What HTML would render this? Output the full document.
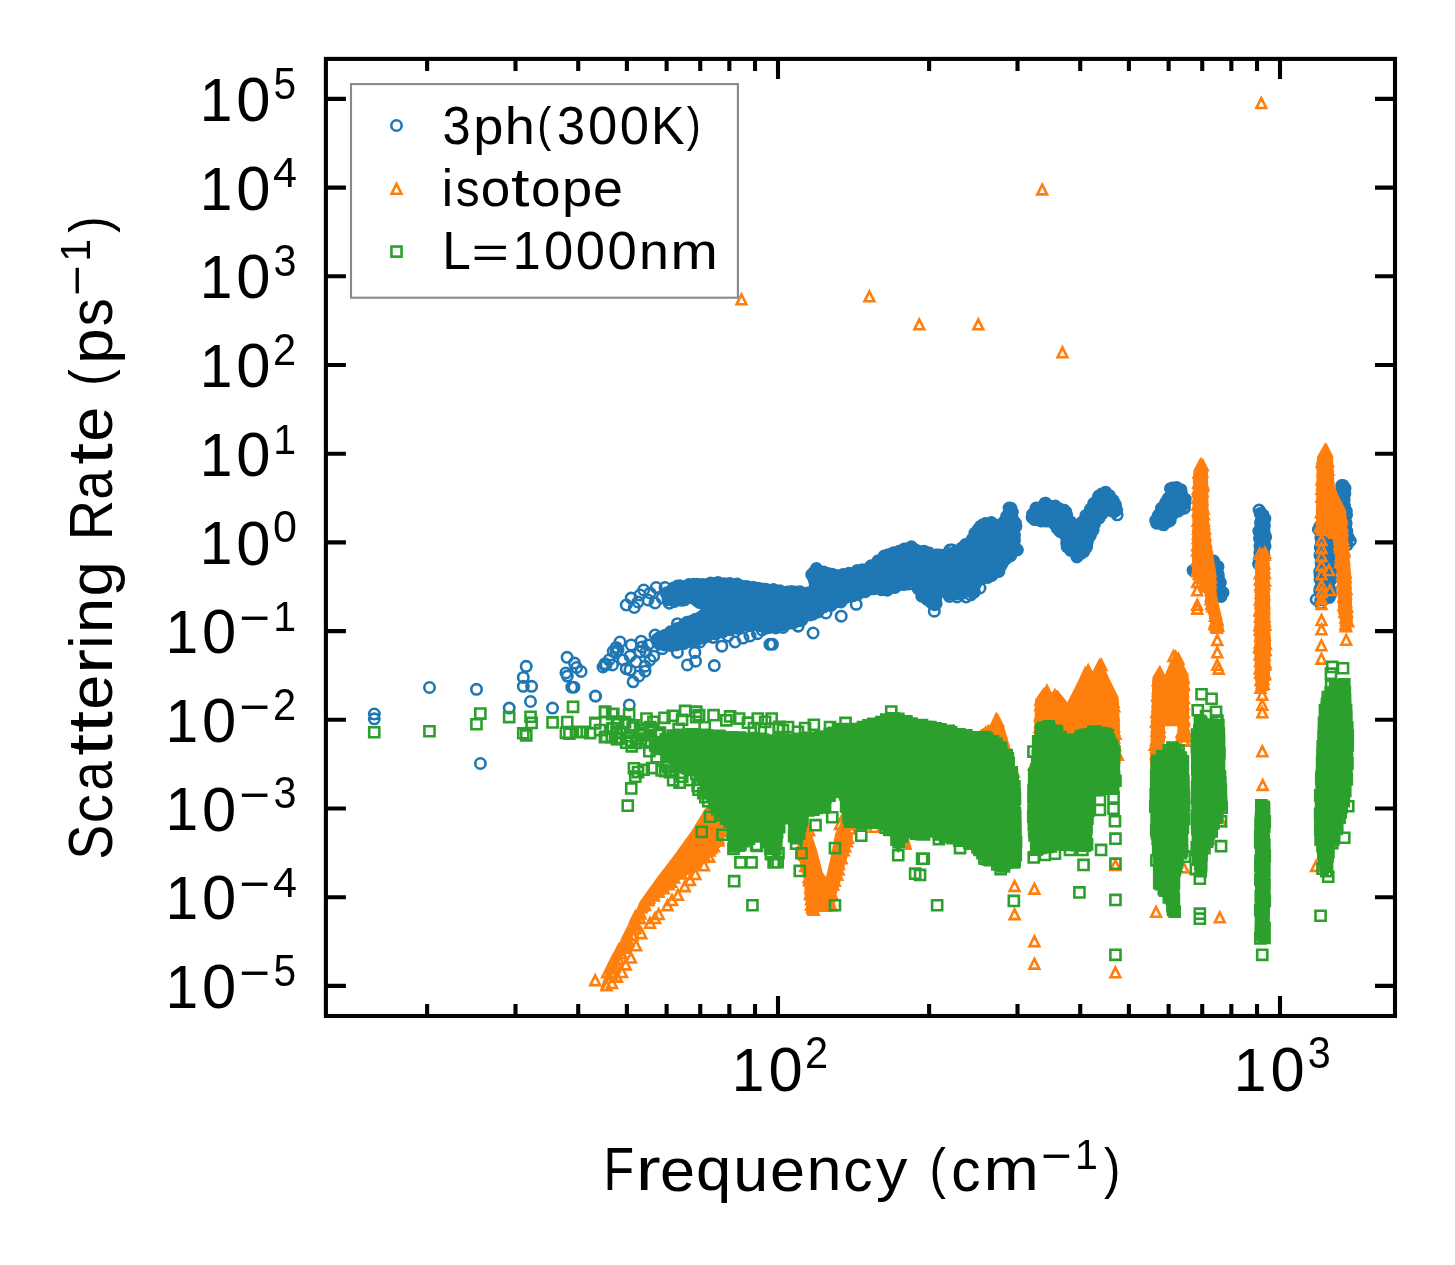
<!DOCTYPE html>
<html><head><meta charset="utf-8"><style>html,body{margin:0;padding:0;background:#fff;width:1455px;height:1265px;overflow:hidden}text{font-family:"Liberation Sans",sans-serif}svg{will-change:transform}</style></head><body><svg width="1455" height="1265" viewBox="0 0 1455 1265" style="position:absolute;left:0;top:0"><defs><clipPath id="axclip"><rect x="325.9" y="58.9" width="1069.1" height="957.1"/></clipPath></defs><rect width="100%" height="100%" fill="#fff"/><g clip-path="url(#axclip)"><path d="M671.0 582.0 L690.0 579.4 L721.1 577.5 L745.0 581.0 L770.0 585.0 L788.7 586.2 L810.0 588.1 L806.2 575.0 L813.7 563.7 L820.0 566.2 L840.0 570.6 L863.7 564.3 L882.4 552.5 L901.1 545.0 L912.4 541.2 L919.9 545.0 L932.4 550.0 L947.9 550.5 L957.2 545.3 L966.4 538.7 L973.0 525.5 L979.6 520.2 L990.2 517.5 L998.1 518.9 L1003.4 512.2 L1006.0 505.6 L1011.3 503.0 L1016.6 507.0 L1017.9 514.9 L1020.5 522.8 L1019.9 536.0 L1020.5 553.2 L1015.3 558.5 L1010.0 563.7 L1004.7 567.7 L1002.1 575.6 L992.8 580.9 L986.2 583.5 L979.6 586.2 L974.3 596.7 L966.4 596.7 L955.8 599.4 L947.9 600.7 L942.4 597.4 L939.9 604.9 L934.9 610.0 L928.6 607.4 L919.9 598.7 L912.4 587.5 L901.1 590.0 L892.4 593.7 L887.4 595.0 L876.2 593.7 L863.7 597.4 L850.0 602.4 L842.4 606.2 L832.5 610.0 L826.2 611.2 L817.5 617.4 L807.5 620.0 L801.2 626.2 L788.7 628.7 L776.2 632.4 L770.0 633.7 L752.4 630.0 L733.6 633.7 L714.9 638.7 L702.4 643.7 L677.4 650.0 L660.0 650.0 L652.5 646.0 L652.5 636.2 L677.4 622.5 L696.2 612.5 L702.4 608.7 L690.0 603.7 L671.2 606.2 L664.0 604.0 L662.0 592.0 Z" fill="#1f77b4"/><path d="M1027.1 512.2 L1032.4 504.3 L1045.6 498.4 L1058.8 501.7 L1068.1 507.0 L1073.4 517.5 L1077.3 521.5 L1086.6 505.6 L1094.5 492.4 L1105.0 486.5 L1111.6 491.1 L1120.2 500.4 L1121.5 512.2 L1115.6 518.9 L1107.7 516.2 L1099.8 522.8 L1094.5 540.0 L1087.9 554.5 L1078.6 562.4 L1072.0 557.1 L1064.1 551.9 L1060.1 538.7 L1054.9 533.4 L1048.3 526.8 L1040.3 527.4 L1031.1 524.1 L1027.1 518.9 Z" fill="#1f77b4"/><path d="M1150.7 519.3 L1155.3 508.6 L1162.9 498.0 L1169.0 484.2 L1176.6 482.0 L1185.8 487.3 L1189.6 498.0 L1188.8 508.6 L1182.7 513.2 L1176.6 519.3 L1172.0 527.0 L1164.4 529.2 L1156.8 528.5 L1150.7 524.7 Z" fill="#1f77b4"/><path d="M1190.3 568.1 L1201.0 555.9 L1214.8 555.9 L1222.4 565.1 L1224.7 577.3 L1225.4 586.5 L1227.7 592.6 L1225.4 598.7 L1217.8 598.7 L1211.7 591.0 L1204.1 577.3 L1190.3 574.2 Z" fill="#1f77b4"/><path d="M1255.9 511.7 L1262.0 505.6 L1268.9 511.7 L1270.4 531.5 L1268.9 559.0 L1262.0 568.1 L1255.2 562.0 L1254.4 531.5 Z" fill="#1f77b4"/><path d="M1336.8 482.7 L1342.9 479.7 L1348.2 484.2 L1350.5 508.6 L1352.8 537.6 L1352.1 545.3 L1344.4 546.8 L1335.3 574.2 L1334.5 598.7 L1327.6 604.0 L1315.4 604.8 L1315.4 525.4 L1330.0 520.0 Z" fill="#1f77b4"/><path d="M682.6 586.1a5.2 5.2 0 1 0 -10.4 0a5.2 5.2 0 1 0 10.4 0M684.9 585.7a5.2 5.2 0 1 0 -10.4 0a5.2 5.2 0 1 0 10.4 0M694.2 584.5a5.2 5.2 0 1 0 -10.4 0a5.2 5.2 0 1 0 10.4 0M699.2 584.2a5.2 5.2 0 1 0 -10.4 0a5.2 5.2 0 1 0 10.4 0M702.6 584.2a5.2 5.2 0 1 0 -10.4 0a5.2 5.2 0 1 0 10.4 0M707.8 584.5a5.2 5.2 0 1 0 -10.4 0a5.2 5.2 0 1 0 10.4 0M715.9 582.9a5.2 5.2 0 1 0 -10.4 0a5.2 5.2 0 1 0 10.4 0M720.7 583.2a5.2 5.2 0 1 0 -10.4 0a5.2 5.2 0 1 0 10.4 0M723.2 582.6a5.2 5.2 0 1 0 -10.4 0a5.2 5.2 0 1 0 10.4 0M729.9 583.7a5.2 5.2 0 1 0 -10.4 0a5.2 5.2 0 1 0 10.4 0M735.0 583.4a5.2 5.2 0 1 0 -10.4 0a5.2 5.2 0 1 0 10.4 0M742.4 584.1a5.2 5.2 0 1 0 -10.4 0a5.2 5.2 0 1 0 10.4 0M747.6 586.2a5.2 5.2 0 1 0 -10.4 0a5.2 5.2 0 1 0 10.4 0M752.0 586.5a5.2 5.2 0 1 0 -10.4 0a5.2 5.2 0 1 0 10.4 0M758.3 587.2a5.2 5.2 0 1 0 -10.4 0a5.2 5.2 0 1 0 10.4 0M763.3 588.3a5.2 5.2 0 1 0 -10.4 0a5.2 5.2 0 1 0 10.4 0M766.4 589.0a5.2 5.2 0 1 0 -10.4 0a5.2 5.2 0 1 0 10.4 0M771.0 589.2a5.2 5.2 0 1 0 -10.4 0a5.2 5.2 0 1 0 10.4 0M778.7 589.6a5.2 5.2 0 1 0 -10.4 0a5.2 5.2 0 1 0 10.4 0M784.9 590.7a5.2 5.2 0 1 0 -10.4 0a5.2 5.2 0 1 0 10.4 0M792.5 591.9a5.2 5.2 0 1 0 -10.4 0a5.2 5.2 0 1 0 10.4 0M796.8 591.4a5.2 5.2 0 1 0 -10.4 0a5.2 5.2 0 1 0 10.4 0M801.8 592.1a5.2 5.2 0 1 0 -10.4 0a5.2 5.2 0 1 0 10.4 0M805.2 591.8a5.2 5.2 0 1 0 -10.4 0a5.2 5.2 0 1 0 10.4 0M812.9 592.9a5.2 5.2 0 1 0 -10.4 0a5.2 5.2 0 1 0 10.4 0M820.2 586.7a5.2 5.2 0 1 0 -10.4 0a5.2 5.2 0 1 0 10.4 0M816.9 574.7a5.2 5.2 0 1 0 -10.4 0a5.2 5.2 0 1 0 10.4 0M819.1 572.4a5.2 5.2 0 1 0 -10.4 0a5.2 5.2 0 1 0 10.4 0M821.6 568.6a5.2 5.2 0 1 0 -10.4 0a5.2 5.2 0 1 0 10.4 0M823.0 570.6a5.2 5.2 0 1 0 -10.4 0a5.2 5.2 0 1 0 10.4 0M829.0 572.0a5.2 5.2 0 1 0 -10.4 0a5.2 5.2 0 1 0 10.4 0M833.2 573.6a5.2 5.2 0 1 0 -10.4 0a5.2 5.2 0 1 0 10.4 0M837.4 574.3a5.2 5.2 0 1 0 -10.4 0a5.2 5.2 0 1 0 10.4 0M841.8 575.5a5.2 5.2 0 1 0 -10.4 0a5.2 5.2 0 1 0 10.4 0M848.3 574.4a5.2 5.2 0 1 0 -10.4 0a5.2 5.2 0 1 0 10.4 0M854.2 573.2a5.2 5.2 0 1 0 -10.4 0a5.2 5.2 0 1 0 10.4 0M862.5 570.4a5.2 5.2 0 1 0 -10.4 0a5.2 5.2 0 1 0 10.4 0M867.7 569.7a5.2 5.2 0 1 0 -10.4 0a5.2 5.2 0 1 0 10.4 0M875.9 566.1a5.2 5.2 0 1 0 -10.4 0a5.2 5.2 0 1 0 10.4 0M876.6 565.7a5.2 5.2 0 1 0 -10.4 0a5.2 5.2 0 1 0 10.4 0M883.4 560.7a5.2 5.2 0 1 0 -10.4 0a5.2 5.2 0 1 0 10.4 0M889.4 556.0a5.2 5.2 0 1 0 -10.4 0a5.2 5.2 0 1 0 10.4 0M893.5 554.7a5.2 5.2 0 1 0 -10.4 0a5.2 5.2 0 1 0 10.4 0M895.6 555.6a5.2 5.2 0 1 0 -10.4 0a5.2 5.2 0 1 0 10.4 0M898.8 552.7a5.2 5.2 0 1 0 -10.4 0a5.2 5.2 0 1 0 10.4 0M904.3 551.3a5.2 5.2 0 1 0 -10.4 0a5.2 5.2 0 1 0 10.4 0M909.4 549.1a5.2 5.2 0 1 0 -10.4 0a5.2 5.2 0 1 0 10.4 0M913.1 548.5a5.2 5.2 0 1 0 -10.4 0a5.2 5.2 0 1 0 10.4 0M916.6 546.8a5.2 5.2 0 1 0 -10.4 0a5.2 5.2 0 1 0 10.4 0M929.2 551.2a5.2 5.2 0 1 0 -10.4 0a5.2 5.2 0 1 0 10.4 0M934.4 553.1a5.2 5.2 0 1 0 -10.4 0a5.2 5.2 0 1 0 10.4 0M941.5 554.9a5.2 5.2 0 1 0 -10.4 0a5.2 5.2 0 1 0 10.4 0M944.1 555.1a5.2 5.2 0 1 0 -10.4 0a5.2 5.2 0 1 0 10.4 0M948.6 555.2a5.2 5.2 0 1 0 -10.4 0a5.2 5.2 0 1 0 10.4 0M958.2 553.1a5.2 5.2 0 1 0 -10.4 0a5.2 5.2 0 1 0 10.4 0M962.4 550.9a5.2 5.2 0 1 0 -10.4 0a5.2 5.2 0 1 0 10.4 0M967.1 547.9a5.2 5.2 0 1 0 -10.4 0a5.2 5.2 0 1 0 10.4 0M970.7 544.6a5.2 5.2 0 1 0 -10.4 0a5.2 5.2 0 1 0 10.4 0M977.6 539.1a5.2 5.2 0 1 0 -10.4 0a5.2 5.2 0 1 0 10.4 0M980.1 533.2a5.2 5.2 0 1 0 -10.4 0a5.2 5.2 0 1 0 10.4 0M985.7 526.4a5.2 5.2 0 1 0 -10.4 0a5.2 5.2 0 1 0 10.4 0M988.0 524.8a5.2 5.2 0 1 0 -10.4 0a5.2 5.2 0 1 0 10.4 0M990.8 523.4a5.2 5.2 0 1 0 -10.4 0a5.2 5.2 0 1 0 10.4 0M996.6 522.6a5.2 5.2 0 1 0 -10.4 0a5.2 5.2 0 1 0 10.4 0M1012.0 516.0a5.2 5.2 0 1 0 -10.4 0a5.2 5.2 0 1 0 10.4 0M1014.6 511.2a5.2 5.2 0 1 0 -10.4 0a5.2 5.2 0 1 0 10.4 0M1016.2 508.3a5.2 5.2 0 1 0 -10.4 0a5.2 5.2 0 1 0 10.4 0M1014.3 508.1a5.2 5.2 0 1 0 -10.4 0a5.2 5.2 0 1 0 10.4 0M1017.6 512.1a5.2 5.2 0 1 0 -10.4 0a5.2 5.2 0 1 0 10.4 0M1020.6 523.1a5.2 5.2 0 1 0 -10.4 0a5.2 5.2 0 1 0 10.4 0M1021.1 526.3a5.2 5.2 0 1 0 -10.4 0a5.2 5.2 0 1 0 10.4 0M1019.7 535.3a5.2 5.2 0 1 0 -10.4 0a5.2 5.2 0 1 0 10.4 0M1019.6 540.2a5.2 5.2 0 1 0 -10.4 0a5.2 5.2 0 1 0 10.4 0M1020.3 547.9a5.2 5.2 0 1 0 -10.4 0a5.2 5.2 0 1 0 10.4 0M1020.1 549.8a5.2 5.2 0 1 0 -10.4 0a5.2 5.2 0 1 0 10.4 0M1022.6 549.8a5.2 5.2 0 1 0 -10.4 0a5.2 5.2 0 1 0 10.4 0M1015.9 555.7a5.2 5.2 0 1 0 -10.4 0a5.2 5.2 0 1 0 10.4 0M1007.2 564.0a5.2 5.2 0 1 0 -10.4 0a5.2 5.2 0 1 0 10.4 0M1005.5 566.8a5.2 5.2 0 1 0 -10.4 0a5.2 5.2 0 1 0 10.4 0M1004.1 571.4a5.2 5.2 0 1 0 -10.4 0a5.2 5.2 0 1 0 10.4 0M997.1 575.4a5.2 5.2 0 1 0 -10.4 0a5.2 5.2 0 1 0 10.4 0M993.0 577.4a5.2 5.2 0 1 0 -10.4 0a5.2 5.2 0 1 0 10.4 0M983.4 580.5a5.2 5.2 0 1 0 -10.4 0a5.2 5.2 0 1 0 10.4 0M980.5 584.3a5.2 5.2 0 1 0 -10.4 0a5.2 5.2 0 1 0 10.4 0M975.9 594.8a5.2 5.2 0 1 0 -10.4 0a5.2 5.2 0 1 0 10.4 0M979.6 592.0a5.2 5.2 0 1 0 -10.4 0a5.2 5.2 0 1 0 10.4 0M967.2 593.4a5.2 5.2 0 1 0 -10.4 0a5.2 5.2 0 1 0 10.4 0M961.5 594.1a5.2 5.2 0 1 0 -10.4 0a5.2 5.2 0 1 0 10.4 0M958.7 594.0a5.2 5.2 0 1 0 -10.4 0a5.2 5.2 0 1 0 10.4 0M954.6 596.4a5.2 5.2 0 1 0 -10.4 0a5.2 5.2 0 1 0 10.4 0M940.8 601.4a5.2 5.2 0 1 0 -10.4 0a5.2 5.2 0 1 0 10.4 0M940.8 602.4a5.2 5.2 0 1 0 -10.4 0a5.2 5.2 0 1 0 10.4 0M940.0 604.7a5.2 5.2 0 1 0 -10.4 0a5.2 5.2 0 1 0 10.4 0M936.0 602.2a5.2 5.2 0 1 0 -10.4 0a5.2 5.2 0 1 0 10.4 0M932.3 599.3a5.2 5.2 0 1 0 -10.4 0a5.2 5.2 0 1 0 10.4 0M928.8 595.2a5.2 5.2 0 1 0 -10.4 0a5.2 5.2 0 1 0 10.4 0M923.3 588.6a5.2 5.2 0 1 0 -10.4 0a5.2 5.2 0 1 0 10.4 0M914.4 584.0a5.2 5.2 0 1 0 -10.4 0a5.2 5.2 0 1 0 10.4 0M908.9 584.6a5.2 5.2 0 1 0 -10.4 0a5.2 5.2 0 1 0 10.4 0M900.3 587.4a5.2 5.2 0 1 0 -10.4 0a5.2 5.2 0 1 0 10.4 0M892.5 590.2a5.2 5.2 0 1 0 -10.4 0a5.2 5.2 0 1 0 10.4 0M891.8 590.0a5.2 5.2 0 1 0 -10.4 0a5.2 5.2 0 1 0 10.4 0M886.5 589.7a5.2 5.2 0 1 0 -10.4 0a5.2 5.2 0 1 0 10.4 0M878.8 588.8a5.2 5.2 0 1 0 -10.4 0a5.2 5.2 0 1 0 10.4 0M870.4 591.7a5.2 5.2 0 1 0 -10.4 0a5.2 5.2 0 1 0 10.4 0M863.5 594.0a5.2 5.2 0 1 0 -10.4 0a5.2 5.2 0 1 0 10.4 0M858.6 595.7a5.2 5.2 0 1 0 -10.4 0a5.2 5.2 0 1 0 10.4 0M846.9 600.7a5.2 5.2 0 1 0 -10.4 0a5.2 5.2 0 1 0 10.4 0M846.1 602.0a5.2 5.2 0 1 0 -10.4 0a5.2 5.2 0 1 0 10.4 0M836.3 605.4a5.2 5.2 0 1 0 -10.4 0a5.2 5.2 0 1 0 10.4 0M835.9 604.8a5.2 5.2 0 1 0 -10.4 0a5.2 5.2 0 1 0 10.4 0M829.0 606.8a5.2 5.2 0 1 0 -10.4 0a5.2 5.2 0 1 0 10.4 0M823.0 610.5a5.2 5.2 0 1 0 -10.4 0a5.2 5.2 0 1 0 10.4 0M818.2 614.1a5.2 5.2 0 1 0 -10.4 0a5.2 5.2 0 1 0 10.4 0M811.0 615.0a5.2 5.2 0 1 0 -10.4 0a5.2 5.2 0 1 0 10.4 0M805.5 620.6a5.2 5.2 0 1 0 -10.4 0a5.2 5.2 0 1 0 10.4 0M799.4 622.4a5.2 5.2 0 1 0 -10.4 0a5.2 5.2 0 1 0 10.4 0M796.3 622.7a5.2 5.2 0 1 0 -10.4 0a5.2 5.2 0 1 0 10.4 0M788.2 624.8a5.2 5.2 0 1 0 -10.4 0a5.2 5.2 0 1 0 10.4 0M780.9 628.0a5.2 5.2 0 1 0 -10.4 0a5.2 5.2 0 1 0 10.4 0M779.6 627.2a5.2 5.2 0 1 0 -10.4 0a5.2 5.2 0 1 0 10.4 0M772.2 628.0a5.2 5.2 0 1 0 -10.4 0a5.2 5.2 0 1 0 10.4 0M766.6 626.0a5.2 5.2 0 1 0 -10.4 0a5.2 5.2 0 1 0 10.4 0M764.6 625.5a5.2 5.2 0 1 0 -10.4 0a5.2 5.2 0 1 0 10.4 0M754.5 624.6a5.2 5.2 0 1 0 -10.4 0a5.2 5.2 0 1 0 10.4 0M744.8 626.8a5.2 5.2 0 1 0 -10.4 0a5.2 5.2 0 1 0 10.4 0M743.4 628.5a5.2 5.2 0 1 0 -10.4 0a5.2 5.2 0 1 0 10.4 0M735.0 629.7a5.2 5.2 0 1 0 -10.4 0a5.2 5.2 0 1 0 10.4 0M728.0 632.0a5.2 5.2 0 1 0 -10.4 0a5.2 5.2 0 1 0 10.4 0M721.1 633.9a5.2 5.2 0 1 0 -10.4 0a5.2 5.2 0 1 0 10.4 0M712.1 636.4a5.2 5.2 0 1 0 -10.4 0a5.2 5.2 0 1 0 10.4 0M708.8 638.0a5.2 5.2 0 1 0 -10.4 0a5.2 5.2 0 1 0 10.4 0M702.2 640.0a5.2 5.2 0 1 0 -10.4 0a5.2 5.2 0 1 0 10.4 0M697.6 641.4a5.2 5.2 0 1 0 -10.4 0a5.2 5.2 0 1 0 10.4 0M695.9 641.4a5.2 5.2 0 1 0 -10.4 0a5.2 5.2 0 1 0 10.4 0M689.4 643.5a5.2 5.2 0 1 0 -10.4 0a5.2 5.2 0 1 0 10.4 0M681.3 644.9a5.2 5.2 0 1 0 -10.4 0a5.2 5.2 0 1 0 10.4 0M677.2 645.2a5.2 5.2 0 1 0 -10.4 0a5.2 5.2 0 1 0 10.4 0M675.7 645.5a5.2 5.2 0 1 0 -10.4 0a5.2 5.2 0 1 0 10.4 0M669.9 644.9a5.2 5.2 0 1 0 -10.4 0a5.2 5.2 0 1 0 10.4 0M664.4 644.0a5.2 5.2 0 1 0 -10.4 0a5.2 5.2 0 1 0 10.4 0M662.1 640.2a5.2 5.2 0 1 0 -10.4 0a5.2 5.2 0 1 0 10.4 0M662.3 639.3a5.2 5.2 0 1 0 -10.4 0a5.2 5.2 0 1 0 10.4 0M665.3 637.2a5.2 5.2 0 1 0 -10.4 0a5.2 5.2 0 1 0 10.4 0M670.4 635.2a5.2 5.2 0 1 0 -10.4 0a5.2 5.2 0 1 0 10.4 0M675.7 631.8a5.2 5.2 0 1 0 -10.4 0a5.2 5.2 0 1 0 10.4 0M682.4 628.6a5.2 5.2 0 1 0 -10.4 0a5.2 5.2 0 1 0 10.4 0M689.3 624.7a5.2 5.2 0 1 0 -10.4 0a5.2 5.2 0 1 0 10.4 0M692.4 622.2a5.2 5.2 0 1 0 -10.4 0a5.2 5.2 0 1 0 10.4 0M697.8 620.7a5.2 5.2 0 1 0 -10.4 0a5.2 5.2 0 1 0 10.4 0M700.3 619.6a5.2 5.2 0 1 0 -10.4 0a5.2 5.2 0 1 0 10.4 0M710.3 613.6a5.2 5.2 0 1 0 -10.4 0a5.2 5.2 0 1 0 10.4 0M704.5 602.5a5.2 5.2 0 1 0 -10.4 0a5.2 5.2 0 1 0 10.4 0M702.5 601.0a5.2 5.2 0 1 0 -10.4 0a5.2 5.2 0 1 0 10.4 0M689.7 599.8a5.2 5.2 0 1 0 -10.4 0a5.2 5.2 0 1 0 10.4 0M687.1 600.3a5.2 5.2 0 1 0 -10.4 0a5.2 5.2 0 1 0 10.4 0M679.6 601.5a5.2 5.2 0 1 0 -10.4 0a5.2 5.2 0 1 0 10.4 0M673.2 599.5a5.2 5.2 0 1 0 -10.4 0a5.2 5.2 0 1 0 10.4 0M674.5 603.2a5.2 5.2 0 1 0 -10.4 0a5.2 5.2 0 1 0 10.4 0M672.7 592.4a5.2 5.2 0 1 0 -10.4 0a5.2 5.2 0 1 0 10.4 0M671.7 593.7a5.2 5.2 0 1 0 -10.4 0a5.2 5.2 0 1 0 10.4 0M678.6 588.2a5.2 5.2 0 1 0 -10.4 0a5.2 5.2 0 1 0 10.4 0" fill="none" stroke="#1f77b4" stroke-width="2.6" stroke-linejoin="miter"/><path d="M1037.7 514.3a5.2 5.2 0 1 0 -10.4 0a5.2 5.2 0 1 0 10.4 0M1041.3 508.0a5.2 5.2 0 1 0 -10.4 0a5.2 5.2 0 1 0 10.4 0M1051.0 503.3a5.2 5.2 0 1 0 -10.4 0a5.2 5.2 0 1 0 10.4 0M1050.3 503.2a5.2 5.2 0 1 0 -10.4 0a5.2 5.2 0 1 0 10.4 0M1060.4 506.1a5.2 5.2 0 1 0 -10.4 0a5.2 5.2 0 1 0 10.4 0M1064.4 508.7a5.2 5.2 0 1 0 -10.4 0a5.2 5.2 0 1 0 10.4 0M1069.6 510.3a5.2 5.2 0 1 0 -10.4 0a5.2 5.2 0 1 0 10.4 0M1071.0 511.9a5.2 5.2 0 1 0 -10.4 0a5.2 5.2 0 1 0 10.4 0M1071.9 514.9a5.2 5.2 0 1 0 -10.4 0a5.2 5.2 0 1 0 10.4 0M1075.8 521.9a5.2 5.2 0 1 0 -10.4 0a5.2 5.2 0 1 0 10.4 0M1087.1 522.3a5.2 5.2 0 1 0 -10.4 0a5.2 5.2 0 1 0 10.4 0M1091.0 515.5a5.2 5.2 0 1 0 -10.4 0a5.2 5.2 0 1 0 10.4 0M1095.7 509.2a5.2 5.2 0 1 0 -10.4 0a5.2 5.2 0 1 0 10.4 0M1097.4 507.9a5.2 5.2 0 1 0 -10.4 0a5.2 5.2 0 1 0 10.4 0M1098.8 503.6a5.2 5.2 0 1 0 -10.4 0a5.2 5.2 0 1 0 10.4 0M1103.9 496.1a5.2 5.2 0 1 0 -10.4 0a5.2 5.2 0 1 0 10.4 0M1106.8 494.0a5.2 5.2 0 1 0 -10.4 0a5.2 5.2 0 1 0 10.4 0M1111.1 492.6a5.2 5.2 0 1 0 -10.4 0a5.2 5.2 0 1 0 10.4 0M1110.8 492.2a5.2 5.2 0 1 0 -10.4 0a5.2 5.2 0 1 0 10.4 0M1114.6 495.5a5.2 5.2 0 1 0 -10.4 0a5.2 5.2 0 1 0 10.4 0M1118.3 500.3a5.2 5.2 0 1 0 -10.4 0a5.2 5.2 0 1 0 10.4 0M1120.7 504.8a5.2 5.2 0 1 0 -10.4 0a5.2 5.2 0 1 0 10.4 0M1121.9 509.9a5.2 5.2 0 1 0 -10.4 0a5.2 5.2 0 1 0 10.4 0M1120.6 510.8a5.2 5.2 0 1 0 -10.4 0a5.2 5.2 0 1 0 10.4 0M1122.4 514.8a5.2 5.2 0 1 0 -10.4 0a5.2 5.2 0 1 0 10.4 0M1107.2 513.8a5.2 5.2 0 1 0 -10.4 0a5.2 5.2 0 1 0 10.4 0M1104.5 517.8a5.2 5.2 0 1 0 -10.4 0a5.2 5.2 0 1 0 10.4 0M1099.8 524.0a5.2 5.2 0 1 0 -10.4 0a5.2 5.2 0 1 0 10.4 0M1098.3 530.1a5.2 5.2 0 1 0 -10.4 0a5.2 5.2 0 1 0 10.4 0M1095.5 535.5a5.2 5.2 0 1 0 -10.4 0a5.2 5.2 0 1 0 10.4 0M1092.3 543.0a5.2 5.2 0 1 0 -10.4 0a5.2 5.2 0 1 0 10.4 0M1091.8 547.1a5.2 5.2 0 1 0 -10.4 0a5.2 5.2 0 1 0 10.4 0M1089.0 551.6a5.2 5.2 0 1 0 -10.4 0a5.2 5.2 0 1 0 10.4 0M1087.2 553.0a5.2 5.2 0 1 0 -10.4 0a5.2 5.2 0 1 0 10.4 0M1082.1 556.9a5.2 5.2 0 1 0 -10.4 0a5.2 5.2 0 1 0 10.4 0M1083.5 555.7a5.2 5.2 0 1 0 -10.4 0a5.2 5.2 0 1 0 10.4 0M1075.9 550.3a5.2 5.2 0 1 0 -10.4 0a5.2 5.2 0 1 0 10.4 0M1072.4 547.0a5.2 5.2 0 1 0 -10.4 0a5.2 5.2 0 1 0 10.4 0M1071.9 543.3a5.2 5.2 0 1 0 -10.4 0a5.2 5.2 0 1 0 10.4 0M1065.2 531.5a5.2 5.2 0 1 0 -10.4 0a5.2 5.2 0 1 0 10.4 0M1062.5 528.5a5.2 5.2 0 1 0 -10.4 0a5.2 5.2 0 1 0 10.4 0M1051.7 521.1a5.2 5.2 0 1 0 -10.4 0a5.2 5.2 0 1 0 10.4 0M1039.8 519.6a5.2 5.2 0 1 0 -10.4 0a5.2 5.2 0 1 0 10.4 0M1037.5 517.1a5.2 5.2 0 1 0 -10.4 0a5.2 5.2 0 1 0 10.4 0M1037.3 517.3a5.2 5.2 0 1 0 -10.4 0a5.2 5.2 0 1 0 10.4 0" fill="none" stroke="#1f77b4" stroke-width="2.6" stroke-linejoin="miter"/><path d="M1163.4 515.5a5.2 5.2 0 1 0 -10.4 0a5.2 5.2 0 1 0 10.4 0M1163.5 515.8a5.2 5.2 0 1 0 -10.4 0a5.2 5.2 0 1 0 10.4 0M1166.8 508.1a5.2 5.2 0 1 0 -10.4 0a5.2 5.2 0 1 0 10.4 0M1170.8 502.5a5.2 5.2 0 1 0 -10.4 0a5.2 5.2 0 1 0 10.4 0M1173.4 498.4a5.2 5.2 0 1 0 -10.4 0a5.2 5.2 0 1 0 10.4 0M1177.4 490.9a5.2 5.2 0 1 0 -10.4 0a5.2 5.2 0 1 0 10.4 0M1177.3 488.0a5.2 5.2 0 1 0 -10.4 0a5.2 5.2 0 1 0 10.4 0M1175.7 488.7a5.2 5.2 0 1 0 -10.4 0a5.2 5.2 0 1 0 10.4 0M1181.7 487.4a5.2 5.2 0 1 0 -10.4 0a5.2 5.2 0 1 0 10.4 0M1186.1 489.7a5.2 5.2 0 1 0 -10.4 0a5.2 5.2 0 1 0 10.4 0M1186.3 490.7a5.2 5.2 0 1 0 -10.4 0a5.2 5.2 0 1 0 10.4 0M1190.4 499.2a5.2 5.2 0 1 0 -10.4 0a5.2 5.2 0 1 0 10.4 0M1189.9 502.7a5.2 5.2 0 1 0 -10.4 0a5.2 5.2 0 1 0 10.4 0M1189.5 508.2a5.2 5.2 0 1 0 -10.4 0a5.2 5.2 0 1 0 10.4 0M1189.6 507.0a5.2 5.2 0 1 0 -10.4 0a5.2 5.2 0 1 0 10.4 0M1183.8 511.0a5.2 5.2 0 1 0 -10.4 0a5.2 5.2 0 1 0 10.4 0M1175.4 520.3a5.2 5.2 0 1 0 -10.4 0a5.2 5.2 0 1 0 10.4 0M1168.8 524.8a5.2 5.2 0 1 0 -10.4 0a5.2 5.2 0 1 0 10.4 0M1168.0 524.6a5.2 5.2 0 1 0 -10.4 0a5.2 5.2 0 1 0 10.4 0M1161.9 523.2a5.2 5.2 0 1 0 -10.4 0a5.2 5.2 0 1 0 10.4 0M1160.9 520.3a5.2 5.2 0 1 0 -10.4 0a5.2 5.2 0 1 0 10.4 0" fill="none" stroke="#1f77b4" stroke-width="2.6" stroke-linejoin="miter"/><path d="M1200.2 570.2a5.2 5.2 0 1 0 -10.4 0a5.2 5.2 0 1 0 10.4 0M1205.2 564.2a5.2 5.2 0 1 0 -10.4 0a5.2 5.2 0 1 0 10.4 0M1207.0 562.8a5.2 5.2 0 1 0 -10.4 0a5.2 5.2 0 1 0 10.4 0M1208.6 560.9a5.2 5.2 0 1 0 -10.4 0a5.2 5.2 0 1 0 10.4 0M1218.8 561.1a5.2 5.2 0 1 0 -10.4 0a5.2 5.2 0 1 0 10.4 0M1216.9 560.4a5.2 5.2 0 1 0 -10.4 0a5.2 5.2 0 1 0 10.4 0M1222.3 566.4a5.2 5.2 0 1 0 -10.4 0a5.2 5.2 0 1 0 10.4 0M1223.2 566.6a5.2 5.2 0 1 0 -10.4 0a5.2 5.2 0 1 0 10.4 0M1223.4 574.5a5.2 5.2 0 1 0 -10.4 0a5.2 5.2 0 1 0 10.4 0M1225.6 582.6a5.2 5.2 0 1 0 -10.4 0a5.2 5.2 0 1 0 10.4 0M1228.2 592.5a5.2 5.2 0 1 0 -10.4 0a5.2 5.2 0 1 0 10.4 0M1226.3 596.4a5.2 5.2 0 1 0 -10.4 0a5.2 5.2 0 1 0 10.4 0M1223.3 593.1a5.2 5.2 0 1 0 -10.4 0a5.2 5.2 0 1 0 10.4 0M1226.3 593.8a5.2 5.2 0 1 0 -10.4 0a5.2 5.2 0 1 0 10.4 0M1219.4 585.7a5.2 5.2 0 1 0 -10.4 0a5.2 5.2 0 1 0 10.4 0M1217.5 582.4a5.2 5.2 0 1 0 -10.4 0a5.2 5.2 0 1 0 10.4 0M1215.4 577.1a5.2 5.2 0 1 0 -10.4 0a5.2 5.2 0 1 0 10.4 0M1204.6 571.8a5.2 5.2 0 1 0 -10.4 0a5.2 5.2 0 1 0 10.4 0M1198.3 570.4a5.2 5.2 0 1 0 -10.4 0a5.2 5.2 0 1 0 10.4 0M1201.1 568.4a5.2 5.2 0 1 0 -10.4 0a5.2 5.2 0 1 0 10.4 0" fill="none" stroke="#1f77b4" stroke-width="2.6" stroke-linejoin="miter"/><path d="M1265.4 513.6a5.2 5.2 0 1 0 -10.4 0a5.2 5.2 0 1 0 10.4 0M1264.3 510.1a5.2 5.2 0 1 0 -10.4 0a5.2 5.2 0 1 0 10.4 0M1270.1 518.6a5.2 5.2 0 1 0 -10.4 0a5.2 5.2 0 1 0 10.4 0M1269.8 519.8a5.2 5.2 0 1 0 -10.4 0a5.2 5.2 0 1 0 10.4 0M1269.6 526.0a5.2 5.2 0 1 0 -10.4 0a5.2 5.2 0 1 0 10.4 0M1270.9 536.8a5.2 5.2 0 1 0 -10.4 0a5.2 5.2 0 1 0 10.4 0M1269.6 540.8a5.2 5.2 0 1 0 -10.4 0a5.2 5.2 0 1 0 10.4 0M1270.2 546.2a5.2 5.2 0 1 0 -10.4 0a5.2 5.2 0 1 0 10.4 0M1268.8 552.7a5.2 5.2 0 1 0 -10.4 0a5.2 5.2 0 1 0 10.4 0M1269.2 556.4a5.2 5.2 0 1 0 -10.4 0a5.2 5.2 0 1 0 10.4 0M1267.8 558.8a5.2 5.2 0 1 0 -10.4 0a5.2 5.2 0 1 0 10.4 0M1263.8 564.1a5.2 5.2 0 1 0 -10.4 0a5.2 5.2 0 1 0 10.4 0M1264.5 559.4a5.2 5.2 0 1 0 -10.4 0a5.2 5.2 0 1 0 10.4 0M1265.3 557.4a5.2 5.2 0 1 0 -10.4 0a5.2 5.2 0 1 0 10.4 0M1265.1 553.2a5.2 5.2 0 1 0 -10.4 0a5.2 5.2 0 1 0 10.4 0M1265.6 549.4a5.2 5.2 0 1 0 -10.4 0a5.2 5.2 0 1 0 10.4 0M1265.2 546.0a5.2 5.2 0 1 0 -10.4 0a5.2 5.2 0 1 0 10.4 0M1264.7 538.6a5.2 5.2 0 1 0 -10.4 0a5.2 5.2 0 1 0 10.4 0M1264.1 531.2a5.2 5.2 0 1 0 -10.4 0a5.2 5.2 0 1 0 10.4 0M1264.9 530.2a5.2 5.2 0 1 0 -10.4 0a5.2 5.2 0 1 0 10.4 0M1265.7 522.6a5.2 5.2 0 1 0 -10.4 0a5.2 5.2 0 1 0 10.4 0M1266.5 514.4a5.2 5.2 0 1 0 -10.4 0a5.2 5.2 0 1 0 10.4 0" fill="none" stroke="#1f77b4" stroke-width="2.6" stroke-linejoin="miter"/><path d="M1348.4 485.8a5.2 5.2 0 1 0 -10.4 0a5.2 5.2 0 1 0 10.4 0M1350.2 488.4a5.2 5.2 0 1 0 -10.4 0a5.2 5.2 0 1 0 10.4 0M1348.4 485.6a5.2 5.2 0 1 0 -10.4 0a5.2 5.2 0 1 0 10.4 0M1350.0 494.1a5.2 5.2 0 1 0 -10.4 0a5.2 5.2 0 1 0 10.4 0M1349.4 499.8a5.2 5.2 0 1 0 -10.4 0a5.2 5.2 0 1 0 10.4 0M1349.7 506.0a5.2 5.2 0 1 0 -10.4 0a5.2 5.2 0 1 0 10.4 0M1351.5 511.0a5.2 5.2 0 1 0 -10.4 0a5.2 5.2 0 1 0 10.4 0M1351.7 515.1a5.2 5.2 0 1 0 -10.4 0a5.2 5.2 0 1 0 10.4 0M1351.3 523.4a5.2 5.2 0 1 0 -10.4 0a5.2 5.2 0 1 0 10.4 0M1352.0 531.0a5.2 5.2 0 1 0 -10.4 0a5.2 5.2 0 1 0 10.4 0M1353.6 537.6a5.2 5.2 0 1 0 -10.4 0a5.2 5.2 0 1 0 10.4 0M1352.4 544.8a5.2 5.2 0 1 0 -10.4 0a5.2 5.2 0 1 0 10.4 0M1355.5 541.0a5.2 5.2 0 1 0 -10.4 0a5.2 5.2 0 1 0 10.4 0M1343.7 550.2a5.2 5.2 0 1 0 -10.4 0a5.2 5.2 0 1 0 10.4 0M1341.8 552.1a5.2 5.2 0 1 0 -10.4 0a5.2 5.2 0 1 0 10.4 0M1340.8 556.7a5.2 5.2 0 1 0 -10.4 0a5.2 5.2 0 1 0 10.4 0M1339.7 561.4a5.2 5.2 0 1 0 -10.4 0a5.2 5.2 0 1 0 10.4 0M1337.5 568.8a5.2 5.2 0 1 0 -10.4 0a5.2 5.2 0 1 0 10.4 0M1335.4 576.3a5.2 5.2 0 1 0 -10.4 0a5.2 5.2 0 1 0 10.4 0M1336.1 579.7a5.2 5.2 0 1 0 -10.4 0a5.2 5.2 0 1 0 10.4 0M1335.5 590.1a5.2 5.2 0 1 0 -10.4 0a5.2 5.2 0 1 0 10.4 0M1334.5 597.4a5.2 5.2 0 1 0 -10.4 0a5.2 5.2 0 1 0 10.4 0M1335.9 594.3a5.2 5.2 0 1 0 -10.4 0a5.2 5.2 0 1 0 10.4 0M1326.2 599.8a5.2 5.2 0 1 0 -10.4 0a5.2 5.2 0 1 0 10.4 0M1321.4 599.5a5.2 5.2 0 1 0 -10.4 0a5.2 5.2 0 1 0 10.4 0M1325.6 603.4a5.2 5.2 0 1 0 -10.4 0a5.2 5.2 0 1 0 10.4 0M1326.0 599.4a5.2 5.2 0 1 0 -10.4 0a5.2 5.2 0 1 0 10.4 0M1324.9 590.4a5.2 5.2 0 1 0 -10.4 0a5.2 5.2 0 1 0 10.4 0M1325.3 588.6a5.2 5.2 0 1 0 -10.4 0a5.2 5.2 0 1 0 10.4 0M1325.3 579.4a5.2 5.2 0 1 0 -10.4 0a5.2 5.2 0 1 0 10.4 0M1325.3 575.2a5.2 5.2 0 1 0 -10.4 0a5.2 5.2 0 1 0 10.4 0M1324.9 571.5a5.2 5.2 0 1 0 -10.4 0a5.2 5.2 0 1 0 10.4 0M1326.4 563.6a5.2 5.2 0 1 0 -10.4 0a5.2 5.2 0 1 0 10.4 0M1326.4 562.2a5.2 5.2 0 1 0 -10.4 0a5.2 5.2 0 1 0 10.4 0M1325.2 555.2a5.2 5.2 0 1 0 -10.4 0a5.2 5.2 0 1 0 10.4 0M1325.5 547.4a5.2 5.2 0 1 0 -10.4 0a5.2 5.2 0 1 0 10.4 0M1326.3 545.5a5.2 5.2 0 1 0 -10.4 0a5.2 5.2 0 1 0 10.4 0M1326.1 538.1a5.2 5.2 0 1 0 -10.4 0a5.2 5.2 0 1 0 10.4 0M1326.3 532.3a5.2 5.2 0 1 0 -10.4 0a5.2 5.2 0 1 0 10.4 0M1325.0 526.4a5.2 5.2 0 1 0 -10.4 0a5.2 5.2 0 1 0 10.4 0M1323.6 529.5a5.2 5.2 0 1 0 -10.4 0a5.2 5.2 0 1 0 10.4 0M1330.2 528.0a5.2 5.2 0 1 0 -10.4 0a5.2 5.2 0 1 0 10.4 0M1336.7 524.7a5.2 5.2 0 1 0 -10.4 0a5.2 5.2 0 1 0 10.4 0M1340.8 516.7a5.2 5.2 0 1 0 -10.4 0a5.2 5.2 0 1 0 10.4 0M1340.9 513.2a5.2 5.2 0 1 0 -10.4 0a5.2 5.2 0 1 0 10.4 0M1343.8 505.2a5.2 5.2 0 1 0 -10.4 0a5.2 5.2 0 1 0 10.4 0M1343.3 501.6a5.2 5.2 0 1 0 -10.4 0a5.2 5.2 0 1 0 10.4 0M1344.7 498.7a5.2 5.2 0 1 0 -10.4 0a5.2 5.2 0 1 0 10.4 0M1345.8 492.8a5.2 5.2 0 1 0 -10.4 0a5.2 5.2 0 1 0 10.4 0M1346.9 485.6a5.2 5.2 0 1 0 -10.4 0a5.2 5.2 0 1 0 10.4 0" fill="none" stroke="#1f77b4" stroke-width="2.6" stroke-linejoin="miter"/><path d="M379.5 714.0a5.2 5.2 0 1 0 -10.4 0a5.2 5.2 0 1 0 10.4 0M379.5 718.8a5.2 5.2 0 1 0 -10.4 0a5.2 5.2 0 1 0 10.4 0M434.7 687.5a5.2 5.2 0 1 0 -10.4 0a5.2 5.2 0 1 0 10.4 0M481.7 689.3a5.2 5.2 0 1 0 -10.4 0a5.2 5.2 0 1 0 10.4 0M485.6 763.5a5.2 5.2 0 1 0 -10.4 0a5.2 5.2 0 1 0 10.4 0M514.4 708.1a5.2 5.2 0 1 0 -10.4 0a5.2 5.2 0 1 0 10.4 0M531.4 666.3a5.2 5.2 0 1 0 -10.4 0a5.2 5.2 0 1 0 10.4 0M528.5 677.4a5.2 5.2 0 1 0 -10.4 0a5.2 5.2 0 1 0 10.4 0M528.5 686.3a5.2 5.2 0 1 0 -10.4 0a5.2 5.2 0 1 0 10.4 0M536.8 686.3a5.2 5.2 0 1 0 -10.4 0a5.2 5.2 0 1 0 10.4 0M535.7 701.5a5.2 5.2 0 1 0 -10.4 0a5.2 5.2 0 1 0 10.4 0M557.7 708.1a5.2 5.2 0 1 0 -10.4 0a5.2 5.2 0 1 0 10.4 0M572.3 657.3a5.2 5.2 0 1 0 -10.4 0a5.2 5.2 0 1 0 10.4 0M579.6 663.1a5.2 5.2 0 1 0 -10.4 0a5.2 5.2 0 1 0 10.4 0M571.1 672.9a5.2 5.2 0 1 0 -10.4 0a5.2 5.2 0 1 0 10.4 0M572.5 676.1a5.2 5.2 0 1 0 -10.4 0a5.2 5.2 0 1 0 10.4 0M586.3 671.5a5.2 5.2 0 1 0 -10.4 0a5.2 5.2 0 1 0 10.4 0M581.8 667.5a5.2 5.2 0 1 0 -10.4 0a5.2 5.2 0 1 0 10.4 0M577.0 687.2a5.2 5.2 0 1 0 -10.4 0a5.2 5.2 0 1 0 10.4 0M579.1 687.2a5.2 5.2 0 1 0 -10.4 0a5.2 5.2 0 1 0 10.4 0M600.5 696.1a5.2 5.2 0 1 0 -10.4 0a5.2 5.2 0 1 0 10.4 0M611.3 664.8a5.2 5.2 0 1 0 -10.4 0a5.2 5.2 0 1 0 10.4 0M618.4 651.4a5.2 5.2 0 1 0 -10.4 0a5.2 5.2 0 1 0 10.4 0M610.0 664.9a5.2 5.2 0 1 0 -10.4 0a5.2 5.2 0 1 0 10.4 0M610.2 663.7a5.2 5.2 0 1 0 -10.4 0a5.2 5.2 0 1 0 10.4 0M617.7 664.9a5.2 5.2 0 1 0 -10.4 0a5.2 5.2 0 1 0 10.4 0M621.4 647.4a5.2 5.2 0 1 0 -10.4 0a5.2 5.2 0 1 0 10.4 0M621.4 652.4a5.2 5.2 0 1 0 -10.4 0a5.2 5.2 0 1 0 10.4 0M636.4 645.0a5.2 5.2 0 1 0 -10.4 0a5.2 5.2 0 1 0 10.4 0M646.4 641.2a5.2 5.2 0 1 0 -10.4 0a5.2 5.2 0 1 0 10.4 0M645.2 651.8a5.2 5.2 0 1 0 -10.4 0a5.2 5.2 0 1 0 10.4 0M635.2 656.2a5.2 5.2 0 1 0 -10.4 0a5.2 5.2 0 1 0 10.4 0M631.4 668.7a5.2 5.2 0 1 0 -10.4 0a5.2 5.2 0 1 0 10.4 0M635.2 670.0a5.2 5.2 0 1 0 -10.4 0a5.2 5.2 0 1 0 10.4 0M650.2 666.2a5.2 5.2 0 1 0 -10.4 0a5.2 5.2 0 1 0 10.4 0M650.2 671.2a5.2 5.2 0 1 0 -10.4 0a5.2 5.2 0 1 0 10.4 0M655.2 660.0a5.2 5.2 0 1 0 -10.4 0a5.2 5.2 0 1 0 10.4 0M658.9 656.2a5.2 5.2 0 1 0 -10.4 0a5.2 5.2 0 1 0 10.4 0M638.3 681.8a5.2 5.2 0 1 0 -10.4 0a5.2 5.2 0 1 0 10.4 0M600.8 696.2a5.2 5.2 0 1 0 -10.4 0a5.2 5.2 0 1 0 10.4 0M634.5 704.9a5.2 5.2 0 1 0 -10.4 0a5.2 5.2 0 1 0 10.4 0M667.6 648.7a5.2 5.2 0 1 0 -10.4 0a5.2 5.2 0 1 0 10.4 0M682.6 652.4a5.2 5.2 0 1 0 -10.4 0a5.2 5.2 0 1 0 10.4 0M692.6 664.9a5.2 5.2 0 1 0 -10.4 0a5.2 5.2 0 1 0 10.4 0M700.1 652.4a5.2 5.2 0 1 0 -10.4 0a5.2 5.2 0 1 0 10.4 0M700.7 661.2a5.2 5.2 0 1 0 -10.4 0a5.2 5.2 0 1 0 10.4 0M719.5 665.6a5.2 5.2 0 1 0 -10.4 0a5.2 5.2 0 1 0 10.4 0M727.0 646.2a5.2 5.2 0 1 0 -10.4 0a5.2 5.2 0 1 0 10.4 0M718.2 637.4a5.2 5.2 0 1 0 -10.4 0a5.2 5.2 0 1 0 10.4 0M748.2 638.1a5.2 5.2 0 1 0 -10.4 0a5.2 5.2 0 1 0 10.4 0M762.6 633.7a5.2 5.2 0 1 0 -10.4 0a5.2 5.2 0 1 0 10.4 0M775.1 644.3a5.2 5.2 0 1 0 -10.4 0a5.2 5.2 0 1 0 10.4 0M682.6 623.7a5.2 5.2 0 1 0 -10.4 0a5.2 5.2 0 1 0 10.4 0M660.2 635.0a5.2 5.2 0 1 0 -10.4 0a5.2 5.2 0 1 0 10.4 0M623.2 650.0a5.2 5.2 0 1 0 -10.4 0a5.2 5.2 0 1 0 10.4 0M628.2 660.0a5.2 5.2 0 1 0 -10.4 0a5.2 5.2 0 1 0 10.4 0M641.2 662.0a5.2 5.2 0 1 0 -10.4 0a5.2 5.2 0 1 0 10.4 0M625.2 642.0a5.2 5.2 0 1 0 -10.4 0a5.2 5.2 0 1 0 10.4 0M653.2 645.0a5.2 5.2 0 1 0 -10.4 0a5.2 5.2 0 1 0 10.4 0M663.2 641.0a5.2 5.2 0 1 0 -10.4 0a5.2 5.2 0 1 0 10.4 0M671.2 638.0a5.2 5.2 0 1 0 -10.4 0a5.2 5.2 0 1 0 10.4 0M677.2 644.0a5.2 5.2 0 1 0 -10.4 0a5.2 5.2 0 1 0 10.4 0M689.2 640.0a5.2 5.2 0 1 0 -10.4 0a5.2 5.2 0 1 0 10.4 0M705.2 642.0a5.2 5.2 0 1 0 -10.4 0a5.2 5.2 0 1 0 10.4 0M713.2 634.0a5.2 5.2 0 1 0 -10.4 0a5.2 5.2 0 1 0 10.4 0M733.2 636.0a5.2 5.2 0 1 0 -10.4 0a5.2 5.2 0 1 0 10.4 0M740.2 642.0a5.2 5.2 0 1 0 -10.4 0a5.2 5.2 0 1 0 10.4 0M755.2 636.0a5.2 5.2 0 1 0 -10.4 0a5.2 5.2 0 1 0 10.4 0M767.2 630.0a5.2 5.2 0 1 0 -10.4 0a5.2 5.2 0 1 0 10.4 0M608.2 667.0a5.2 5.2 0 1 0 -10.4 0a5.2 5.2 0 1 0 10.4 0M614.2 660.0a5.2 5.2 0 1 0 -10.4 0a5.2 5.2 0 1 0 10.4 0M644.2 676.0a5.2 5.2 0 1 0 -10.4 0a5.2 5.2 0 1 0 10.4 0M647.2 647.0a5.2 5.2 0 1 0 -10.4 0a5.2 5.2 0 1 0 10.4 0M651.2 652.0a5.2 5.2 0 1 0 -10.4 0a5.2 5.2 0 1 0 10.4 0M694.2 633.0a5.2 5.2 0 1 0 -10.4 0a5.2 5.2 0 1 0 10.4 0M631.4 605.0a5.2 5.2 0 1 0 -10.4 0a5.2 5.2 0 1 0 10.4 0M636.4 598.1a5.2 5.2 0 1 0 -10.4 0a5.2 5.2 0 1 0 10.4 0M639.5 607.5a5.2 5.2 0 1 0 -10.4 0a5.2 5.2 0 1 0 10.4 0M648.9 590.0a5.2 5.2 0 1 0 -10.4 0a5.2 5.2 0 1 0 10.4 0M645.2 595.0a5.2 5.2 0 1 0 -10.4 0a5.2 5.2 0 1 0 10.4 0M661.4 587.5a5.2 5.2 0 1 0 -10.4 0a5.2 5.2 0 1 0 10.4 0M670.2 587.5a5.2 5.2 0 1 0 -10.4 0a5.2 5.2 0 1 0 10.4 0M653.2 600.0a5.2 5.2 0 1 0 -10.4 0a5.2 5.2 0 1 0 10.4 0M660.2 603.0a5.2 5.2 0 1 0 -10.4 0a5.2 5.2 0 1 0 10.4 0M667.2 598.0a5.2 5.2 0 1 0 -10.4 0a5.2 5.2 0 1 0 10.4 0M643.2 602.0a5.2 5.2 0 1 0 -10.4 0a5.2 5.2 0 1 0 10.4 0M655.2 593.0a5.2 5.2 0 1 0 -10.4 0a5.2 5.2 0 1 0 10.4 0M777.7 644.3a5.2 5.2 0 1 0 -10.4 0a5.2 5.2 0 1 0 10.4 0M818.3 633.0a5.2 5.2 0 1 0 -10.4 0a5.2 5.2 0 1 0 10.4 0M846.4 616.2a5.2 5.2 0 1 0 -10.4 0a5.2 5.2 0 1 0 10.4 0M861.4 604.3a5.2 5.2 0 1 0 -10.4 0a5.2 5.2 0 1 0 10.4 0M803.3 626.2a5.2 5.2 0 1 0 -10.4 0a5.2 5.2 0 1 0 10.4 0M788.3 627.4a5.2 5.2 0 1 0 -10.4 0a5.2 5.2 0 1 0 10.4 0M939.5 611.2a5.2 5.2 0 1 0 -10.4 0a5.2 5.2 0 1 0 10.4 0M941.3 603.7a5.2 5.2 0 1 0 -10.4 0a5.2 5.2 0 1 0 10.4 0M927.0 596.2a5.2 5.2 0 1 0 -10.4 0a5.2 5.2 0 1 0 10.4 0M955.1 550.0a5.2 5.2 0 1 0 -10.4 0a5.2 5.2 0 1 0 10.4 0M977.4 592.4a5.2 5.2 0 1 0 -10.4 0a5.2 5.2 0 1 0 10.4 0M957.5 549.9a5.2 5.2 0 1 0 -10.4 0a5.2 5.2 0 1 0 10.4 0M971.2 597.0a5.2 5.2 0 1 0 -10.4 0a5.2 5.2 0 1 0 10.4 0M978.2 593.0a5.2 5.2 0 1 0 -10.4 0a5.2 5.2 0 1 0 10.4 0M985.2 588.0a5.2 5.2 0 1 0 -10.4 0a5.2 5.2 0 1 0 10.4 0M962.2 597.0a5.2 5.2 0 1 0 -10.4 0a5.2 5.2 0 1 0 10.4 0M815.2 615.0a5.2 5.2 0 1 0 -10.4 0a5.2 5.2 0 1 0 10.4 0M823.2 612.0a5.2 5.2 0 1 0 -10.4 0a5.2 5.2 0 1 0 10.4 0M831.2 613.0a5.2 5.2 0 1 0 -10.4 0a5.2 5.2 0 1 0 10.4 0M795.2 623.0a5.2 5.2 0 1 0 -10.4 0a5.2 5.2 0 1 0 10.4 0M807.2 620.0a5.2 5.2 0 1 0 -10.4 0a5.2 5.2 0 1 0 10.4 0" fill="none" stroke="#1f77b4" stroke-width="2.6" stroke-linejoin="miter"/><path d="M1193.4 470.5 L1200.6 456.8 L1207.9 470.5 L1208.6 516.3 L1211.7 546.8 L1216.3 572.7 L1216.3 592.6 L1222.4 620.0 L1224.0 630.0 L1211.7 630.0 L1207.1 607.8 L1204.1 592.6 L1191.9 574.2 L1192.6 501.0 Z" fill="#ff7f0e"/><path d="M1255.2 562.0 L1262.4 546.8 L1269.7 562.0 L1270.4 633.0 L1271.0 639.9 L1269.8 679.8 L1266.0 689.8 L1258.5 689.8 L1254.8 679.8 L1254.4 633.0 Z" fill="#ff7f0e"/><path d="M1317.0 456.8 L1325.4 442.3 L1333.0 456.8 L1334.5 485.8 L1338.3 494.9 L1346.0 510.2 L1348.2 539.2 L1351.3 577.3 L1352.1 607.8 L1352.8 623.1 L1347.5 633.0 L1338.3 613.9 L1336.8 574.2 L1333.0 540.0 L1326.0 532.0 L1316.0 532.0 L1316.2 485.8 Z" fill="#ff7f0e"/><path d="M990.0 724.8 L996.1 711.5 L1004.1 726.4 L1012.9 756.4 L1019.9 791.6 L1000.0 760.0 L980.0 756.0 L980.0 730.0 Z" fill="#ff7f0e"/><path d="M1035.0 699.8 L1043.7 687.3 L1051.2 692.3 L1057.4 689.8 L1067.4 702.3 L1078.7 679.8 L1084.9 666.1 L1092.4 672.3 L1099.9 657.3 L1109.9 679.8 L1118.6 697.3 L1119.9 724.8 L1119.9 760.0 L1030.0 770.0 L1033.7 756.0 Z" fill="#ff7f0e"/><path d="M1152.4 677.3 L1159.9 664.8 L1164.9 674.8 L1175.6 649.0 L1188.6 674.8 L1189.0 700.0 L1189.0 742.0 L1180.0 742.0 L1177.0 725.0 L1165.0 725.0 L1165.0 742.0 L1158.0 750.0 L1152.0 770.0 L1151.0 790.0 L1150.0 760.0 Z" fill="#ff7f0e"/><path d="M600.0 990.0 L604.0 978.0 L610.0 964.4 L618.7 947.0 L629.2 929.6 L639.6 901.8 L657.0 877.4 L674.4 854.8 L691.8 830.5 L707.5 804.4 L718.3 805.6 L728.0 827.8 L721.4 846.1 L710.0 858.0 L695.0 870.0 L680.0 880.0 L664.0 895.0 L650.0 905.0 L642.0 915.0 L636.0 930.0 L628.0 945.0 L620.0 960.0 L612.0 975.0 L604.0 988.0 Z" fill="#ff7f0e"/><path d="M806.7 823.3 L812.0 835.0 L817.0 850.0 L822.8 872.4 L826.0 877.0 L830.0 860.0 L835.2 833.6 L843.5 817.0 L853.2 836.4 L848.0 855.0 L842.1 875.1 L836.6 894.5 L834.0 910.0 L820.0 911.0 L807.6 913.8 L804.8 897.2 L804.0 880.0 L800.6 866.8 L797.0 850.0 L800.0 835.0 Z" fill="#ff7f0e"/><path d="M842.3 809.9 L879.8 804.9 L879.8 827.4 L844.8 829.9 Z" fill="#ff7f0e"/><path d="M903.5 819.9 L912.2 849.9 L904.8 849.9 Z" fill="#ff7f0e"/><path d="M945.0 810.0 L963.7 834.9 L950.0 835.0 Z" fill="#ff7f0e"/><path d="M1198.5 467.9l4.9 9.8h-9.8zM1202.7 460.3l4.9 9.8h-9.8zM1200.2 463.1l4.9 9.8h-9.8zM1202.0 466.6l4.9 9.8h-9.8zM1202.2 466.8l4.9 9.8h-9.8zM1202.1 476.4l4.9 9.8h-9.8zM1203.2 479.2l4.9 9.8h-9.8zM1202.9 481.2l4.9 9.8h-9.8zM1202.5 486.5l4.9 9.8h-9.8zM1202.3 494.6l4.9 9.8h-9.8zM1202.5 500.8l4.9 9.8h-9.8zM1203.6 504.0l4.9 9.8h-9.8zM1203.8 509.4l4.9 9.8h-9.8zM1203.9 515.6l4.9 9.8h-9.8zM1203.9 518.6l4.9 9.8h-9.8zM1204.9 523.6l4.9 9.8h-9.8zM1205.3 530.2l4.9 9.8h-9.8zM1205.9 536.4l4.9 9.8h-9.8zM1206.8 542.0l4.9 9.8h-9.8zM1207.0 546.8l4.9 9.8h-9.8zM1207.2 551.3l4.9 9.8h-9.8zM1208.4 558.1l4.9 9.8h-9.8zM1209.1 561.3l4.9 9.8h-9.8zM1210.1 566.4l4.9 9.8h-9.8zM1211.0 572.3l4.9 9.8h-9.8zM1210.5 577.4l4.9 9.8h-9.8zM1210.3 581.9l4.9 9.8h-9.8zM1211.3 592.7l4.9 9.8h-9.8zM1213.1 599.8l4.9 9.8h-9.8zM1214.4 603.2l4.9 9.8h-9.8zM1215.6 607.8l4.9 9.8h-9.8zM1217.4 614.5l4.9 9.8h-9.8zM1216.7 616.3l4.9 9.8h-9.8zM1218.1 621.1l4.9 9.8h-9.8zM1214.5 619.3l4.9 9.8h-9.8zM1216.1 621.6l4.9 9.8h-9.8zM1215.1 616.6l4.9 9.8h-9.8zM1215.0 610.8l4.9 9.8h-9.8zM1212.3 601.5l4.9 9.8h-9.8zM1211.3 599.0l4.9 9.8h-9.8zM1210.7 594.4l4.9 9.8h-9.8zM1210.9 590.9l4.9 9.8h-9.8zM1206.6 581.3l4.9 9.8h-9.8zM1205.1 579.9l4.9 9.8h-9.8zM1201.2 573.1l4.9 9.8h-9.8zM1198.7 569.1l4.9 9.8h-9.8zM1196.9 566.3l4.9 9.8h-9.8zM1197.6 563.8l4.9 9.8h-9.8zM1197.0 555.3l4.9 9.8h-9.8zM1197.9 554.0l4.9 9.8h-9.8zM1197.1 545.6l4.9 9.8h-9.8zM1197.2 540.3l4.9 9.8h-9.8zM1197.8 533.2l4.9 9.8h-9.8zM1198.0 528.9l4.9 9.8h-9.8zM1198.0 523.8l4.9 9.8h-9.8zM1198.4 520.8l4.9 9.8h-9.8zM1197.7 515.8l4.9 9.8h-9.8zM1198.6 507.5l4.9 9.8h-9.8zM1197.9 505.6l4.9 9.8h-9.8zM1197.4 499.9l4.9 9.8h-9.8zM1197.5 493.2l4.9 9.8h-9.8zM1197.8 486.7l4.9 9.8h-9.8zM1197.9 483.8l4.9 9.8h-9.8zM1198.4 477.9l4.9 9.8h-9.8zM1199.2 475.9l4.9 9.8h-9.8zM1199.4 470.7l4.9 9.8h-9.8z" fill="none" stroke="#ff7f0e" stroke-width="2.6" stroke-linejoin="miter"/><path d="M1261.1 557.3l4.9 9.8h-9.8zM1264.7 550.0l4.9 9.8h-9.8zM1265.0 547.9l4.9 9.8h-9.8zM1259.6 549.0l4.9 9.8h-9.8zM1264.0 558.3l4.9 9.8h-9.8zM1264.4 558.7l4.9 9.8h-9.8zM1264.1 563.0l4.9 9.8h-9.8zM1264.8 568.1l4.9 9.8h-9.8zM1265.0 575.6l4.9 9.8h-9.8zM1264.3 579.2l4.9 9.8h-9.8zM1263.7 585.8l4.9 9.8h-9.8zM1264.3 589.5l4.9 9.8h-9.8zM1263.8 596.3l4.9 9.8h-9.8zM1263.9 598.0l4.9 9.8h-9.8zM1264.1 603.4l4.9 9.8h-9.8zM1264.5 611.8l4.9 9.8h-9.8zM1264.8 616.0l4.9 9.8h-9.8zM1265.4 619.9l4.9 9.8h-9.8zM1264.1 625.9l4.9 9.8h-9.8zM1264.7 629.5l4.9 9.8h-9.8zM1265.9 639.2l4.9 9.8h-9.8zM1265.6 645.1l4.9 9.8h-9.8zM1264.4 650.2l4.9 9.8h-9.8zM1265.2 657.1l4.9 9.8h-9.8zM1265.4 659.6l4.9 9.8h-9.8zM1265.1 668.5l4.9 9.8h-9.8zM1264.5 669.7l4.9 9.8h-9.8zM1263.3 674.3l4.9 9.8h-9.8zM1260.5 682.8l4.9 9.8h-9.8zM1263.7 678.8l4.9 9.8h-9.8zM1262.5 677.8l4.9 9.8h-9.8zM1261.9 678.1l4.9 9.8h-9.8zM1260.5 675.4l4.9 9.8h-9.8zM1260.3 667.8l4.9 9.8h-9.8zM1259.8 663.5l4.9 9.8h-9.8zM1260.2 656.1l4.9 9.8h-9.8zM1259.7 649.5l4.9 9.8h-9.8zM1259.9 643.5l4.9 9.8h-9.8zM1259.3 641.9l4.9 9.8h-9.8zM1259.7 637.6l4.9 9.8h-9.8zM1260.2 631.2l4.9 9.8h-9.8zM1259.7 624.9l4.9 9.8h-9.8zM1259.4 620.4l4.9 9.8h-9.8zM1260.3 616.8l4.9 9.8h-9.8zM1260.0 611.7l4.9 9.8h-9.8zM1259.4 605.6l4.9 9.8h-9.8zM1260.6 597.7l4.9 9.8h-9.8zM1259.9 594.7l4.9 9.8h-9.8zM1260.8 587.8l4.9 9.8h-9.8zM1261.1 581.9l4.9 9.8h-9.8zM1260.4 580.1l4.9 9.8h-9.8zM1259.9 574.7l4.9 9.8h-9.8zM1259.9 568.3l4.9 9.8h-9.8zM1260.8 566.3l4.9 9.8h-9.8zM1261.2 557.0l4.9 9.8h-9.8z" fill="none" stroke="#ff7f0e" stroke-width="2.6" stroke-linejoin="miter"/><path d="M1322.4 453.4l4.9 9.8h-9.8zM1326.7 446.2l4.9 9.8h-9.8zM1325.7 448.8l4.9 9.8h-9.8zM1325.6 451.2l4.9 9.8h-9.8zM1327.9 456.1l4.9 9.8h-9.8zM1327.5 460.9l4.9 9.8h-9.8zM1328.3 464.8l4.9 9.8h-9.8zM1328.2 472.8l4.9 9.8h-9.8zM1329.1 477.3l4.9 9.8h-9.8zM1332.2 489.7l4.9 9.8h-9.8zM1335.2 496.6l4.9 9.8h-9.8zM1337.7 500.5l4.9 9.8h-9.8zM1339.9 505.8l4.9 9.8h-9.8zM1341.4 511.1l4.9 9.8h-9.8zM1341.9 514.2l4.9 9.8h-9.8zM1342.3 521.2l4.9 9.8h-9.8zM1342.4 525.5l4.9 9.8h-9.8zM1342.9 534.3l4.9 9.8h-9.8zM1343.2 539.9l4.9 9.8h-9.8zM1344.3 544.8l4.9 9.8h-9.8zM1344.2 546.6l4.9 9.8h-9.8zM1343.8 553.5l4.9 9.8h-9.8zM1344.4 561.6l4.9 9.8h-9.8zM1344.8 565.4l4.9 9.8h-9.8zM1345.4 567.7l4.9 9.8h-9.8zM1345.6 572.4l4.9 9.8h-9.8zM1345.4 578.1l4.9 9.8h-9.8zM1346.5 584.2l4.9 9.8h-9.8zM1345.7 588.7l4.9 9.8h-9.8zM1346.0 596.6l4.9 9.8h-9.8zM1347.1 602.0l4.9 9.8h-9.8zM1347.0 607.0l4.9 9.8h-9.8zM1346.3 609.2l4.9 9.8h-9.8zM1347.7 616.1l4.9 9.8h-9.8zM1345.5 619.4l4.9 9.8h-9.8zM1348.2 616.3l4.9 9.8h-9.8zM1345.6 612.6l4.9 9.8h-9.8zM1344.5 607.2l4.9 9.8h-9.8zM1344.5 607.2l4.9 9.8h-9.8zM1343.6 600.5l4.9 9.8h-9.8zM1343.9 592.2l4.9 9.8h-9.8zM1343.8 590.9l4.9 9.8h-9.8zM1342.3 583.9l4.9 9.8h-9.8zM1342.2 577.2l4.9 9.8h-9.8zM1342.3 570.2l4.9 9.8h-9.8zM1342.6 568.7l4.9 9.8h-9.8zM1340.3 557.5l4.9 9.8h-9.8zM1340.8 554.1l4.9 9.8h-9.8zM1340.8 550.6l4.9 9.8h-9.8zM1340.0 542.0l4.9 9.8h-9.8zM1339.4 539.1l4.9 9.8h-9.8zM1334.7 528.0l4.9 9.8h-9.8zM1332.4 526.4l4.9 9.8h-9.8zM1320.7 522.2l4.9 9.8h-9.8zM1320.1 521.6l4.9 9.8h-9.8zM1322.3 524.9l4.9 9.8h-9.8zM1321.1 518.9l4.9 9.8h-9.8zM1321.3 513.3l4.9 9.8h-9.8zM1320.9 507.5l4.9 9.8h-9.8zM1322.4 502.3l4.9 9.8h-9.8zM1322.4 499.7l4.9 9.8h-9.8zM1321.7 492.0l4.9 9.8h-9.8zM1321.6 491.5l4.9 9.8h-9.8zM1321.6 484.0l4.9 9.8h-9.8zM1322.3 479.6l4.9 9.8h-9.8zM1321.6 474.4l4.9 9.8h-9.8zM1322.6 465.4l4.9 9.8h-9.8zM1322.9 458.6l4.9 9.8h-9.8zM1321.7 456.8l4.9 9.8h-9.8z" fill="none" stroke="#ff7f0e" stroke-width="2.6" stroke-linejoin="miter"/><path d="M997.9 716.0l4.9 9.8h-9.8zM996.9 718.0l4.9 9.8h-9.8zM996.4 720.1l4.9 9.8h-9.8zM998.4 722.5l4.9 9.8h-9.8zM1000.5 728.2l4.9 9.8h-9.8zM1002.7 735.5l4.9 9.8h-9.8zM1004.3 740.2l4.9 9.8h-9.8zM1005.5 747.0l4.9 9.8h-9.8zM1007.7 751.1l4.9 9.8h-9.8zM1007.6 754.6l4.9 9.8h-9.8zM1009.5 759.3l4.9 9.8h-9.8zM1010.4 767.5l4.9 9.8h-9.8zM1010.8 768.6l4.9 9.8h-9.8zM1013.6 766.9l4.9 9.8h-9.8zM1012.9 764.7l4.9 9.8h-9.8zM1009.1 758.3l4.9 9.8h-9.8zM1006.1 753.7l4.9 9.8h-9.8zM999.3 749.6l4.9 9.8h-9.8zM994.1 748.1l4.9 9.8h-9.8zM988.6 746.9l4.9 9.8h-9.8zM983.2 746.1l4.9 9.8h-9.8zM985.2 746.7l4.9 9.8h-9.8zM985.3 745.5l4.9 9.8h-9.8zM985.7 741.1l4.9 9.8h-9.8zM985.8 730.3l4.9 9.8h-9.8zM985.7 727.9l4.9 9.8h-9.8zM983.3 730.1l4.9 9.8h-9.8zM988.2 726.6l4.9 9.8h-9.8z" fill="none" stroke="#ff7f0e" stroke-width="2.6" stroke-linejoin="miter"/><path d="M1042.9 694.4l4.9 9.8h-9.8zM1042.8 693.3l4.9 9.8h-9.8zM1046.9 685.8l4.9 9.8h-9.8zM1046.8 691.7l4.9 9.8h-9.8zM1055.5 692.3l4.9 9.8h-9.8zM1054.9 690.5l4.9 9.8h-9.8zM1058.7 694.9l4.9 9.8h-9.8zM1061.4 698.2l4.9 9.8h-9.8zM1072.8 698.4l4.9 9.8h-9.8zM1076.4 693.2l4.9 9.8h-9.8zM1077.3 690.4l4.9 9.8h-9.8zM1080.7 684.3l4.9 9.8h-9.8zM1082.5 678.4l4.9 9.8h-9.8zM1085.5 673.7l4.9 9.8h-9.8zM1088.5 667.9l4.9 9.8h-9.8zM1088.2 665.5l4.9 9.8h-9.8zM1097.0 668.7l4.9 9.8h-9.8zM1101.4 660.1l4.9 9.8h-9.8zM1098.7 662.3l4.9 9.8h-9.8zM1102.6 671.3l4.9 9.8h-9.8zM1103.7 674.8l4.9 9.8h-9.8zM1105.9 681.4l4.9 9.8h-9.8zM1108.4 684.3l4.9 9.8h-9.8zM1111.2 689.7l4.9 9.8h-9.8zM1113.5 696.8l4.9 9.8h-9.8zM1114.2 701.5l4.9 9.8h-9.8zM1113.1 708.6l4.9 9.8h-9.8zM1113.4 710.1l4.9 9.8h-9.8zM1113.5 715.2l4.9 9.8h-9.8zM1114.0 721.5l4.9 9.8h-9.8zM1113.9 724.6l4.9 9.8h-9.8zM1114.0 732.6l4.9 9.8h-9.8zM1113.9 736.2l4.9 9.8h-9.8zM1115.0 740.5l4.9 9.8h-9.8zM1114.5 747.7l4.9 9.8h-9.8zM1114.2 752.1l4.9 9.8h-9.8zM1117.8 750.0l4.9 9.8h-9.8zM1113.6 749.8l4.9 9.8h-9.8zM1108.0 751.6l4.9 9.8h-9.8zM1101.2 751.7l4.9 9.8h-9.8zM1096.4 751.9l4.9 9.8h-9.8zM1089.2 752.4l4.9 9.8h-9.8zM1089.0 752.8l4.9 9.8h-9.8zM1081.2 753.1l4.9 9.8h-9.8zM1076.5 754.8l4.9 9.8h-9.8zM1071.7 755.4l4.9 9.8h-9.8zM1064.5 755.0l4.9 9.8h-9.8zM1062.4 755.8l4.9 9.8h-9.8zM1058.0 756.8l4.9 9.8h-9.8zM1049.8 757.0l4.9 9.8h-9.8zM1046.0 757.9l4.9 9.8h-9.8zM1044.4 757.7l4.9 9.8h-9.8zM1034.5 758.6l4.9 9.8h-9.8zM1033.7 759.7l4.9 9.8h-9.8zM1036.8 760.7l4.9 9.8h-9.8zM1036.9 758.5l4.9 9.8h-9.8zM1039.6 749.8l4.9 9.8h-9.8zM1039.5 744.2l4.9 9.8h-9.8zM1040.1 740.3l4.9 9.8h-9.8zM1039.9 736.6l4.9 9.8h-9.8zM1039.0 727.9l4.9 9.8h-9.8zM1039.5 722.4l4.9 9.8h-9.8zM1040.2 717.3l4.9 9.8h-9.8zM1040.2 711.4l4.9 9.8h-9.8zM1040.2 710.0l4.9 9.8h-9.8zM1040.3 700.4l4.9 9.8h-9.8zM1040.4 694.9l4.9 9.8h-9.8z" fill="none" stroke="#ff7f0e" stroke-width="2.6" stroke-linejoin="miter"/><path d="M1160.2 670.2l4.9 9.8h-9.8zM1158.8 671.4l4.9 9.8h-9.8zM1170.2 670.1l4.9 9.8h-9.8zM1172.9 665.5l4.9 9.8h-9.8zM1175.8 657.7l4.9 9.8h-9.8zM1178.4 653.9l4.9 9.8h-9.8zM1173.5 651.1l4.9 9.8h-9.8zM1175.9 656.6l4.9 9.8h-9.8zM1179.2 662.3l4.9 9.8h-9.8zM1179.6 664.1l4.9 9.8h-9.8zM1183.3 671.7l4.9 9.8h-9.8zM1183.3 673.3l4.9 9.8h-9.8zM1183.9 679.3l4.9 9.8h-9.8zM1183.1 680.4l4.9 9.8h-9.8zM1182.8 685.8l4.9 9.8h-9.8zM1183.9 693.2l4.9 9.8h-9.8zM1183.6 699.4l4.9 9.8h-9.8zM1182.8 701.9l4.9 9.8h-9.8zM1183.9 707.2l4.9 9.8h-9.8zM1184.1 714.2l4.9 9.8h-9.8zM1183.7 716.3l4.9 9.8h-9.8zM1183.1 726.1l4.9 9.8h-9.8zM1183.4 730.8l4.9 9.8h-9.8zM1184.2 736.0l4.9 9.8h-9.8zM1188.1 731.3l4.9 9.8h-9.8zM1184.4 735.4l4.9 9.8h-9.8zM1183.6 728.9l4.9 9.8h-9.8zM1183.5 720.4l4.9 9.8h-9.8zM1172.9 715.2l4.9 9.8h-9.8zM1168.4 715.1l4.9 9.8h-9.8zM1159.5 722.3l4.9 9.8h-9.8zM1159.8 727.1l4.9 9.8h-9.8zM1158.8 735.1l4.9 9.8h-9.8zM1158.5 737.3l4.9 9.8h-9.8zM1154.8 739.9l4.9 9.8h-9.8zM1156.3 750.5l4.9 9.8h-9.8zM1155.9 748.4l4.9 9.8h-9.8zM1156.4 742.6l4.9 9.8h-9.8zM1156.3 739.6l4.9 9.8h-9.8zM1156.2 734.8l4.9 9.8h-9.8zM1156.6 726.0l4.9 9.8h-9.8zM1157.2 721.7l4.9 9.8h-9.8zM1156.0 716.7l4.9 9.8h-9.8zM1157.1 711.2l4.9 9.8h-9.8zM1156.4 707.2l4.9 9.8h-9.8zM1157.7 701.4l4.9 9.8h-9.8zM1158.0 695.8l4.9 9.8h-9.8zM1157.2 690.6l4.9 9.8h-9.8zM1158.0 685.6l4.9 9.8h-9.8zM1158.1 682.9l4.9 9.8h-9.8zM1157.8 675.5l4.9 9.8h-9.8z" fill="none" stroke="#ff7f0e" stroke-width="2.6" stroke-linejoin="miter"/><path d="M611.9 969.3l4.9 9.8h-9.8zM614.7 961.8l4.9 9.8h-9.8zM617.1 958.6l4.9 9.8h-9.8zM618.6 954.0l4.9 9.8h-9.8zM621.5 948.1l4.9 9.8h-9.8zM624.8 942.9l4.9 9.8h-9.8zM626.4 939.1l4.9 9.8h-9.8zM628.4 936.2l4.9 9.8h-9.8zM632.5 930.1l4.9 9.8h-9.8zM635.3 923.3l4.9 9.8h-9.8zM636.3 919.9l4.9 9.8h-9.8zM639.8 913.3l4.9 9.8h-9.8zM640.5 908.6l4.9 9.8h-9.8zM645.1 900.2l4.9 9.8h-9.8zM647.5 895.4l4.9 9.8h-9.8zM649.1 892.9l4.9 9.8h-9.8zM652.7 888.0l4.9 9.8h-9.8zM657.8 880.6l4.9 9.8h-9.8zM660.4 877.7l4.9 9.8h-9.8zM660.9 875.6l4.9 9.8h-9.8zM667.3 868.5l4.9 9.8h-9.8zM670.7 863.9l4.9 9.8h-9.8zM675.1 857.9l4.9 9.8h-9.8zM675.7 857.2l4.9 9.8h-9.8zM680.4 850.4l4.9 9.8h-9.8zM684.0 846.4l4.9 9.8h-9.8zM685.9 842.8l4.9 9.8h-9.8zM690.9 835.8l4.9 9.8h-9.8zM693.0 833.1l4.9 9.8h-9.8zM697.4 825.8l4.9 9.8h-9.8zM699.9 820.9l4.9 9.8h-9.8zM703.5 817.2l4.9 9.8h-9.8zM706.3 812.1l4.9 9.8h-9.8zM709.6 807.6l4.9 9.8h-9.8zM710.8 802.9l4.9 9.8h-9.8zM710.1 805.5l4.9 9.8h-9.8zM713.8 805.5l4.9 9.8h-9.8zM714.0 803.6l4.9 9.8h-9.8zM717.6 812.5l4.9 9.8h-9.8zM720.2 817.1l4.9 9.8h-9.8zM721.2 819.5l4.9 9.8h-9.8zM720.8 826.3l4.9 9.8h-9.8zM718.2 832.9l4.9 9.8h-9.8zM718.3 835.7l4.9 9.8h-9.8zM714.0 841.5l4.9 9.8h-9.8zM711.3 843.2l4.9 9.8h-9.8zM709.7 845.6l4.9 9.8h-9.8zM704.4 851.0l4.9 9.8h-9.8zM701.6 852.3l4.9 9.8h-9.8zM693.6 859.1l4.9 9.8h-9.8zM688.0 862.5l4.9 9.8h-9.8zM685.5 863.9l4.9 9.8h-9.8zM681.4 868.7l4.9 9.8h-9.8zM674.2 872.6l4.9 9.8h-9.8zM671.2 876.8l4.9 9.8h-9.8zM668.8 879.5l4.9 9.8h-9.8zM663.7 883.3l4.9 9.8h-9.8zM658.7 886.9l4.9 9.8h-9.8zM653.7 890.6l4.9 9.8h-9.8zM648.6 894.7l4.9 9.8h-9.8zM642.8 900.6l4.9 9.8h-9.8zM641.5 902.5l4.9 9.8h-9.8zM635.4 911.6l4.9 9.8h-9.8zM635.0 913.3l4.9 9.8h-9.8zM632.3 919.4l4.9 9.8h-9.8zM630.9 922.2l4.9 9.8h-9.8zM627.4 928.6l4.9 9.8h-9.8zM626.0 933.2l4.9 9.8h-9.8zM621.8 940.6l4.9 9.8h-9.8zM618.7 944.9l4.9 9.8h-9.8zM616.6 949.7l4.9 9.8h-9.8zM613.1 955.3l4.9 9.8h-9.8zM610.5 962.5l4.9 9.8h-9.8zM607.2 967.3l4.9 9.8h-9.8z" fill="none" stroke="#ff7f0e" stroke-width="2.6" stroke-linejoin="miter"/><path d="M806.1 830.1l4.9 9.8h-9.8zM807.8 832.9l4.9 9.8h-9.8zM809.0 838.4l4.9 9.8h-9.8zM811.3 846.1l4.9 9.8h-9.8zM812.1 848.2l4.9 9.8h-9.8zM813.6 856.0l4.9 9.8h-9.8zM814.1 858.1l4.9 9.8h-9.8zM815.9 863.7l4.9 9.8h-9.8zM820.2 872.2l4.9 9.8h-9.8zM832.0 869.6l4.9 9.8h-9.8zM833.5 866.6l4.9 9.8h-9.8zM835.6 858.2l4.9 9.8h-9.8zM835.3 854.7l4.9 9.8h-9.8zM837.5 848.3l4.9 9.8h-9.8zM839.1 841.7l4.9 9.8h-9.8zM839.7 836.7l4.9 9.8h-9.8zM841.0 830.8l4.9 9.8h-9.8zM840.9 829.4l4.9 9.8h-9.8zM844.4 822.3l4.9 9.8h-9.8zM840.1 819.1l4.9 9.8h-9.8zM842.9 823.2l4.9 9.8h-9.8zM843.9 826.1l4.9 9.8h-9.8zM848.1 833.0l4.9 9.8h-9.8zM846.9 836.4l4.9 9.8h-9.8zM845.3 841.6l4.9 9.8h-9.8zM843.6 845.4l4.9 9.8h-9.8zM841.6 853.4l4.9 9.8h-9.8zM840.5 853.3l4.9 9.8h-9.8zM838.8 859.2l4.9 9.8h-9.8zM838.6 864.6l4.9 9.8h-9.8zM837.3 869.8l4.9 9.8h-9.8zM834.8 875.8l4.9 9.8h-9.8zM833.2 879.7l4.9 9.8h-9.8zM831.9 888.6l4.9 9.8h-9.8zM831.3 888.8l4.9 9.8h-9.8zM829.0 897.7l4.9 9.8h-9.8zM830.1 900.5l4.9 9.8h-9.8zM831.3 900.3l4.9 9.8h-9.8zM825.9 900.8l4.9 9.8h-9.8zM817.5 900.8l4.9 9.8h-9.8zM812.4 901.6l4.9 9.8h-9.8zM812.6 903.1l4.9 9.8h-9.8zM811.0 900.0l4.9 9.8h-9.8zM811.1 894.3l4.9 9.8h-9.8zM810.0 889.1l4.9 9.8h-9.8zM810.4 882.7l4.9 9.8h-9.8zM809.0 875.3l4.9 9.8h-9.8zM808.7 872.4l4.9 9.8h-9.8zM805.3 861.1l4.9 9.8h-9.8zM806.2 859.9l4.9 9.8h-9.8zM804.4 850.0l4.9 9.8h-9.8zM803.6 848.0l4.9 9.8h-9.8zM802.0 845.5l4.9 9.8h-9.8zM803.3 838.6l4.9 9.8h-9.8zM803.8 835.9l4.9 9.8h-9.8zM806.0 829.8l4.9 9.8h-9.8zM809.1 825.5l4.9 9.8h-9.8z" fill="none" stroke="#ff7f0e" stroke-width="2.6" stroke-linejoin="miter"/><path d="M844.2 811.0l4.9 9.8h-9.8zM850.1 809.0l4.9 9.8h-9.8zM853.7 808.5l4.9 9.8h-9.8zM863.2 807.2l4.9 9.8h-9.8zM870.1 806.3l4.9 9.8h-9.8zM872.3 806.5l4.9 9.8h-9.8zM878.8 806.0l4.9 9.8h-9.8zM874.7 800.8l4.9 9.8h-9.8zM874.1 808.5l4.9 9.8h-9.8zM875.0 816.3l4.9 9.8h-9.8zM874.3 821.9l4.9 9.8h-9.8zM874.5 818.0l4.9 9.8h-9.8zM869.4 817.5l4.9 9.8h-9.8zM864.3 818.0l4.9 9.8h-9.8zM861.0 818.8l4.9 9.8h-9.8zM858.7 818.6l4.9 9.8h-9.8zM854.7 819.3l4.9 9.8h-9.8zM844.7 819.5l4.9 9.8h-9.8zM850.5 823.7l4.9 9.8h-9.8zM848.5 814.5l4.9 9.8h-9.8zM849.6 814.2l4.9 9.8h-9.8zM848.7 808.5l4.9 9.8h-9.8z" fill="none" stroke="#ff7f0e" stroke-width="2.6" stroke-linejoin="miter"/><path d="M947.8 818.8l4.9 9.8h-9.8zM950.2 822.7l4.9 9.8h-9.8zM955.4 829.0l4.9 9.8h-9.8zM958.8 824.3l4.9 9.8h-9.8zM954.1 825.3l4.9 9.8h-9.8zM954.5 825.8l4.9 9.8h-9.8zM954.0 818.6l4.9 9.8h-9.8zM952.5 816.9l4.9 9.8h-9.8z" fill="none" stroke="#ff7f0e" stroke-width="2.6" stroke-linejoin="miter"/><path d="M741.5 294.5l4.9 9.8h-9.8zM869.4 291.5l4.9 9.8h-9.8zM919.3 319.5l4.9 9.8h-9.8zM978.3 319.5l4.9 9.8h-9.8zM1042.2 184.6l4.9 9.8h-9.8zM1062.5 347.5l4.9 9.8h-9.8zM1261.3 98.2l4.9 9.8h-9.8zM1197.2 577.1l4.9 9.8h-9.8zM1197.2 585.5l4.9 9.8h-9.8zM1197.2 600.0l4.9 9.8h-9.8zM1197.2 603.8l4.9 9.8h-9.8zM1217.0 622.8l4.9 9.8h-9.8zM1217.3 635.1l4.9 9.8h-9.8zM1217.3 647.5l4.9 9.8h-9.8zM1217.3 660.0l4.9 9.8h-9.8zM1218.6 663.8l4.9 9.8h-9.8zM1262.3 680.0l4.9 9.8h-9.8zM1262.3 690.0l4.9 9.8h-9.8zM1262.3 700.0l4.9 9.8h-9.8zM1262.3 707.5l4.9 9.8h-9.8zM1262.3 746.4l4.9 9.8h-9.8zM1262.7 780.1l4.9 9.8h-9.8zM1321.5 535.2l4.9 9.8h-9.8zM1321.5 543.2l4.9 9.8h-9.8zM1321.5 551.1l4.9 9.8h-9.8zM1321.5 560.3l4.9 9.8h-9.8zM1321.5 569.4l4.9 9.8h-9.8zM1321.5 580.1l4.9 9.8h-9.8zM1321.5 587.2l4.9 9.8h-9.8zM1321.5 593.9l4.9 9.8h-9.8zM1321.5 599.2l4.9 9.8h-9.8zM1330.0 585.2l4.9 9.8h-9.8zM1329.0 565.2l4.9 9.8h-9.8zM1321.5 615.2l4.9 9.8h-9.8zM1321.5 624.4l4.9 9.8h-9.8zM1321.4 640.4l4.9 9.8h-9.8zM1321.4 653.8l4.9 9.8h-9.8zM1346.0 615.2l4.9 9.8h-9.8zM1346.0 621.3l4.9 9.8h-9.8zM1346.2 635.0l4.9 9.8h-9.8zM1316.1 861.1l4.9 9.8h-9.8zM709.2 851.8l4.9 9.8h-9.8zM704.0 860.5l4.9 9.8h-9.8zM695.3 869.2l4.9 9.8h-9.8zM684.8 881.3l4.9 9.8h-9.8zM677.9 890.0l4.9 9.8h-9.8zM667.4 900.5l4.9 9.8h-9.8zM658.7 909.2l4.9 9.8h-9.8zM650.0 917.9l4.9 9.8h-9.8zM641.3 928.3l4.9 9.8h-9.8zM636.1 940.5l4.9 9.8h-9.8zM630.9 952.7l4.9 9.8h-9.8zM625.7 959.6l4.9 9.8h-9.8zM617.0 971.8l4.9 9.8h-9.8zM606.5 980.5l4.9 9.8h-9.8zM595.2 975.3l4.9 9.8h-9.8zM612.0 978.2l4.9 9.8h-9.8zM622.0 967.2l4.9 9.8h-9.8zM690.0 875.2l4.9 9.8h-9.8zM672.0 895.2l4.9 9.8h-9.8zM655.0 913.2l4.9 9.8h-9.8zM813.6 905.0l4.9 9.8h-9.8zM1014.6 881.1l4.9 9.8h-9.8zM1014.6 909.3l4.9 9.8h-9.8zM1034.4 883.8l4.9 9.8h-9.8zM1034.4 936.3l4.9 9.8h-9.8zM1034.4 958.8l4.9 9.8h-9.8zM1115.4 728.9l4.9 9.8h-9.8zM1115.4 860.1l4.9 9.8h-9.8zM1115.4 967.5l4.9 9.8h-9.8zM1156.1 907.0l4.9 9.8h-9.8zM1183.6 862.6l4.9 9.8h-9.8zM1219.8 912.5l4.9 9.8h-9.8zM1221.0 816.4l4.9 9.8h-9.8zM1182.3 727.7l4.9 9.8h-9.8zM1181.7 726.7l4.9 9.8h-9.8zM1181.7 731.2l4.9 9.8h-9.8z" fill="none" stroke="#ff7f0e" stroke-width="2.6" stroke-linejoin="miter"/><path d="M642.2 750.3 L657.0 738.0 L672.5 731.0 L700.0 729.5 L727.5 732.0 L755.0 735.0 L790.0 736.0 L797.0 735.0 L824.3 731.7 L836.7 724.7 L854.3 724.7 L873.7 719.4 L891.3 713.2 L907.2 716.7 L933.6 722.9 L951.2 726.4 L968.8 731.7 L986.5 731.7 L1000.6 740.5 L1011.1 752.9 L1016.4 770.5 L1019.0 788.1 L1019.9 823.3 L1020.8 855.1 L1018.2 865.6 L1011.1 869.2 L1000.6 872.7 L993.5 867.4 L982.9 862.1 L972.4 849.8 L956.5 844.5 L944.2 841.0 L931.8 837.4 L923.0 839.2 L907.2 837.4 L898.3 853.3 L890.0 836.4 L878.1 828.1 L867.0 828.1 L846.3 825.3 L842.1 811.5 L840.8 794.9 L835.2 797.7 L826.9 810.1 L807.6 815.6 L803.4 837.8 L792.4 841.9 L789.6 832.2 L786.8 818.4 L784.1 829.5 L781.3 836.4 L779.9 858.5 L767.5 853.0 L761.9 839.2 L748.1 844.7 L735.6 853.0 L730.1 847.5 L728.7 828.1 L712.8 812.0 L705.9 794.6 L700.3 783.5 L690.6 773.8 L674.0 769.7 L668.5 764.2 L651.9 747.6 Z" fill="#2ca02c"/><path d="M1029.9 774.9 L1034.9 745.0 L1038.7 725.0 L1049.9 722.5 L1059.9 732.5 L1069.9 737.5 L1082.4 730.0 L1094.9 726.2 L1109.9 730.0 L1117.3 750.0 L1119.9 780.0 L1117.3 792.4 L1094.9 794.9 L1092.4 814.9 L1089.9 849.9 L1069.9 849.9 L1054.9 849.9 L1032.4 854.9 L1028.7 824.9 L1028.7 787.4 Z" fill="#2ca02c"/><path d="M1169.7 742.8 L1181.1 746.6 L1187.2 758.0 L1188.6 814.9 L1186.3 852.8 L1181.1 864.2 L1178.2 887.0 L1179.2 913.5 L1169.7 915.4 L1164.0 896.5 L1156.4 887.0 L1154.5 856.6 L1152.6 843.3 L1150.7 805.4 L1152.6 758.0 Z" fill="#2ca02c"/><path d="M1192.5 735.2 L1196.3 720.0 L1222.8 720.0 L1223.8 748.5 L1225.7 809.2 L1213.3 837.6 L1207.6 852.8 L1205.7 871.8 L1196.3 873.7 L1192.5 852.8 L1192.5 776.9 Z" fill="#2ca02c"/><path d="M1322.8 696.5 L1332.2 680.3 L1349.7 683.0 L1351.0 707.2 L1352.4 747.6 L1351.0 782.5 L1348.3 801.4 L1343.0 822.9 L1337.6 841.7 L1332.2 855.2 L1330.9 871.3 L1321.4 874.0 L1318.8 855.2 L1316.1 841.7 L1315.5 801.4 L1317.4 761.0 L1318.8 726.1 L1321.4 704.6 Z" fill="#2ca02c"/><path d="M1256.0 804.9 L1262.2 801.2 L1269.0 804.9 L1269.0 934.8 L1262.2 943.6 L1256.0 934.8 Z" fill="#2ca02c"/><path d="M1033.7 739.8 L1037.5 724.8 L1050.0 721.0 L1059.9 727.3 L1067.4 737.3 L1079.9 732.3 L1092.4 727.3 L1107.4 729.8 L1116.2 739.8 L1118.6 756.0 L1032.5 756.0 Z" fill="#2ca02c"/><path d="M650.2 740.3h10.1v10.1h-10.1zM653.7 737.4h10.1v10.1h-10.1zM660.7 734.4h10.1v10.1h-10.1zM667.7 730.6h10.1v10.1h-10.1zM670.4 730.8h10.1v10.1h-10.1zM676.1 729.9h10.1v10.1h-10.1zM679.4 730.9h10.1v10.1h-10.1zM686.8 729.3h10.1v10.1h-10.1zM691.2 730.1h10.1v10.1h-10.1zM698.3 729.9h10.1v10.1h-10.1zM701.7 730.2h10.1v10.1h-10.1zM709.7 731.6h10.1v10.1h-10.1zM714.4 730.8h10.1v10.1h-10.1zM720.7 732.2h10.1v10.1h-10.1zM726.9 732.2h10.1v10.1h-10.1zM732.5 733.4h10.1v10.1h-10.1zM734.8 732.5h10.1v10.1h-10.1zM741.0 734.3h10.1v10.1h-10.1zM743.9 733.7h10.1v10.1h-10.1zM752.3 735.4h10.1v10.1h-10.1zM757.8 734.5h10.1v10.1h-10.1zM760.0 736.0h10.1v10.1h-10.1zM768.0 736.2h10.1v10.1h-10.1zM770.2 735.6h10.1v10.1h-10.1zM776.4 736.4h10.1v10.1h-10.1zM781.1 735.1h10.1v10.1h-10.1zM786.5 736.6h10.1v10.1h-10.1zM795.2 733.9h10.1v10.1h-10.1zM798.0 734.6h10.1v10.1h-10.1zM805.2 732.9h10.1v10.1h-10.1zM811.5 732.7h10.1v10.1h-10.1zM815.6 731.5h10.1v10.1h-10.1zM824.8 728.8h10.1v10.1h-10.1zM828.8 727.7h10.1v10.1h-10.1zM833.0 724.0h10.1v10.1h-10.1zM841.6 724.0h10.1v10.1h-10.1zM844.9 725.2h10.1v10.1h-10.1zM852.2 724.0h10.1v10.1h-10.1zM857.9 722.1h10.1v10.1h-10.1zM863.5 720.3h10.1v10.1h-10.1zM868.2 718.9h10.1v10.1h-10.1zM876.3 717.0h10.1v10.1h-10.1zM881.3 714.6h10.1v10.1h-10.1zM882.4 714.7h10.1v10.1h-10.1zM888.2 713.2h10.1v10.1h-10.1zM893.3 713.9h10.1v10.1h-10.1zM901.0 716.2h10.1v10.1h-10.1zM901.4 716.5h10.1v10.1h-10.1zM906.4 718.5h10.1v10.1h-10.1zM916.9 720.0h10.1v10.1h-10.1zM920.7 721.7h10.1v10.1h-10.1zM925.3 722.1h10.1v10.1h-10.1zM930.5 723.4h10.1v10.1h-10.1zM935.4 724.2h10.1v10.1h-10.1zM943.7 725.7h10.1v10.1h-10.1zM946.1 727.2h10.1v10.1h-10.1zM954.3 729.2h10.1v10.1h-10.1zM961.2 730.3h10.1v10.1h-10.1zM964.9 732.4h10.1v10.1h-10.1zM974.0 732.4h10.1v10.1h-10.1zM980.1 732.0h10.1v10.1h-10.1zM982.2 733.8h10.1v10.1h-10.1zM987.8 736.4h10.1v10.1h-10.1zM991.4 738.7h10.1v10.1h-10.1zM995.2 742.5h10.1v10.1h-10.1zM996.1 743.5h10.1v10.1h-10.1zM1001.6 750.0h10.1v10.1h-10.1zM1002.8 753.3h10.1v10.1h-10.1zM1003.6 758.1h10.1v10.1h-10.1zM1006.6 767.3h10.1v10.1h-10.1zM1006.8 770.3h10.1v10.1h-10.1zM1007.6 775.7h10.1v10.1h-10.1zM1009.3 781.2h10.1v10.1h-10.1zM1009.2 783.2h10.1v10.1h-10.1zM1009.7 789.1h10.1v10.1h-10.1zM1009.9 794.0h10.1v10.1h-10.1zM1008.6 797.8h10.1v10.1h-10.1zM1009.8 808.1h10.1v10.1h-10.1zM1010.1 811.4h10.1v10.1h-10.1zM1009.7 815.7h10.1v10.1h-10.1zM1010.3 819.9h10.1v10.1h-10.1zM1010.1 825.5h10.1v10.1h-10.1zM1010.4 828.9h10.1v10.1h-10.1zM1011.0 836.9h10.1v10.1h-10.1zM1010.7 842.7h10.1v10.1h-10.1zM1010.2 845.3h10.1v10.1h-10.1zM1010.7 850.0h10.1v10.1h-10.1zM1008.7 857.3h10.1v10.1h-10.1zM1007.8 857.0h10.1v10.1h-10.1zM998.9 861.4h10.1v10.1h-10.1zM998.2 861.0h10.1v10.1h-10.1zM992.3 859.3h10.1v10.1h-10.1zM985.1 855.1h10.1v10.1h-10.1zM982.9 854.4h10.1v10.1h-10.1zM979.6 852.2h10.1v10.1h-10.1zM977.4 848.2h10.1v10.1h-10.1zM972.4 842.4h10.1v10.1h-10.1zM965.6 838.6h10.1v10.1h-10.1zM964.2 837.9h10.1v10.1h-10.1zM954.2 835.5h10.1v10.1h-10.1zM947.5 833.0h10.1v10.1h-10.1zM940.1 831.2h10.1v10.1h-10.1zM940.2 831.6h10.1v10.1h-10.1zM933.9 829.3h10.1v10.1h-10.1zM919.0 829.3h10.1v10.1h-10.1zM915.6 829.1h10.1v10.1h-10.1zM911.1 828.7h10.1v10.1h-10.1zM906.0 827.1h10.1v10.1h-10.1zM897.2 831.3h10.1v10.1h-10.1zM893.6 837.0h10.1v10.1h-10.1zM892.1 834.3h10.1v10.1h-10.1zM891.5 834.5h10.1v10.1h-10.1zM884.2 824.9h10.1v10.1h-10.1zM880.5 822.6h10.1v10.1h-10.1zM868.9 817.6h10.1v10.1h-10.1zM865.8 817.5h10.1v10.1h-10.1zM859.5 817.6h10.1v10.1h-10.1zM857.3 818.0h10.1v10.1h-10.1zM852.1 816.5h10.1v10.1h-10.1zM847.2 815.8h10.1v10.1h-10.1zM843.6 812.4h10.1v10.1h-10.1zM843.5 808.8h10.1v10.1h-10.1zM841.1 801.4h10.1v10.1h-10.1zM841.6 800.7h10.1v10.1h-10.1zM840.1 789.3h10.1v10.1h-10.1zM830.5 786.9h10.1v10.1h-10.1zM824.5 790.6h10.1v10.1h-10.1zM818.5 802.4h10.1v10.1h-10.1zM820.0 800.6h10.1v10.1h-10.1zM811.5 802.9h10.1v10.1h-10.1zM808.3 804.6h10.1v10.1h-10.1zM803.3 805.3h10.1v10.1h-10.1zM797.4 812.6h10.1v10.1h-10.1zM796.7 815.8h10.1v10.1h-10.1zM795.2 821.1h10.1v10.1h-10.1zM793.8 828.1h10.1v10.1h-10.1zM794.1 828.7h10.1v10.1h-10.1zM789.1 831.1h10.1v10.1h-10.1zM791.5 833.2h10.1v10.1h-10.1zM789.8 828.6h10.1v10.1h-10.1zM789.4 822.5h10.1v10.1h-10.1zM787.3 813.0h10.1v10.1h-10.1zM777.2 812.0h10.1v10.1h-10.1zM774.1 822.2h10.1v10.1h-10.1zM772.0 827.7h10.1v10.1h-10.1zM771.4 831.0h10.1v10.1h-10.1zM771.1 838.7h10.1v10.1h-10.1zM770.4 843.8h10.1v10.1h-10.1zM773.4 848.0h10.1v10.1h-10.1zM765.9 843.8h10.1v10.1h-10.1zM765.4 843.8h10.1v10.1h-10.1zM764.3 836.8h10.1v10.1h-10.1zM749.8 831.4h10.1v10.1h-10.1zM743.9 833.6h10.1v10.1h-10.1zM738.4 836.1h10.1v10.1h-10.1zM734.1 840.5h10.1v10.1h-10.1zM728.4 843.8h10.1v10.1h-10.1zM729.5 839.0h10.1v10.1h-10.1zM730.3 840.8h10.1v10.1h-10.1zM729.1 834.8h10.1v10.1h-10.1zM728.1 823.8h10.1v10.1h-10.1zM724.6 816.3h10.1v10.1h-10.1zM721.1 813.4h10.1v10.1h-10.1zM717.2 810.2h10.1v10.1h-10.1zM712.1 804.2h10.1v10.1h-10.1zM712.1 803.3h10.1v10.1h-10.1zM709.4 798.0h10.1v10.1h-10.1zM707.2 790.8h10.1v10.1h-10.1zM704.1 785.1h10.1v10.1h-10.1zM701.0 778.7h10.1v10.1h-10.1zM698.4 774.6h10.1v10.1h-10.1zM691.3 768.8h10.1v10.1h-10.1zM682.7 763.4h10.1v10.1h-10.1zM678.5 762.4h10.1v10.1h-10.1zM671.9 759.6h10.1v10.1h-10.1zM670.1 759.0h10.1v10.1h-10.1zM662.3 751.3h10.1v10.1h-10.1zM661.8 751.3h10.1v10.1h-10.1zM655.1 743.8h10.1v10.1h-10.1zM651.3 740.3h10.1v10.1h-10.1z" fill="none" stroke="#2ca02c" stroke-width="2.6" stroke-linejoin="miter"/><path d="M1029.6 769.5h10.1v10.1h-10.1zM1031.3 764.6h10.1v10.1h-10.1zM1032.2 758.3h10.1v10.1h-10.1zM1033.2 750.8h10.1v10.1h-10.1zM1033.5 748.0h10.1v10.1h-10.1zM1034.4 744.2h10.1v10.1h-10.1zM1034.6 739.0h10.1v10.1h-10.1zM1036.3 735.2h10.1v10.1h-10.1zM1036.8 730.1h10.1v10.1h-10.1zM1038.1 722.7h10.1v10.1h-10.1zM1039.5 724.2h10.1v10.1h-10.1zM1041.3 723.3h10.1v10.1h-10.1zM1044.6 724.3h10.1v10.1h-10.1zM1047.1 727.3h10.1v10.1h-10.1zM1055.5 732.2h10.1v10.1h-10.1zM1060.2 736.2h10.1v10.1h-10.1zM1070.2 735.0h10.1v10.1h-10.1zM1076.0 731.5h10.1v10.1h-10.1zM1080.1 729.8h10.1v10.1h-10.1zM1088.3 727.0h10.1v10.1h-10.1zM1090.5 726.5h10.1v10.1h-10.1zM1098.0 728.8h10.1v10.1h-10.1zM1102.7 730.1h10.1v10.1h-10.1zM1100.3 728.7h10.1v10.1h-10.1zM1102.9 734.7h10.1v10.1h-10.1zM1105.0 738.3h10.1v10.1h-10.1zM1108.2 745.9h10.1v10.1h-10.1zM1107.0 749.2h10.1v10.1h-10.1zM1108.0 754.0h10.1v10.1h-10.1zM1108.9 756.0h10.1v10.1h-10.1zM1108.7 764.9h10.1v10.1h-10.1zM1108.6 769.0h10.1v10.1h-10.1zM1109.0 771.6h10.1v10.1h-10.1zM1110.4 775.7h10.1v10.1h-10.1zM1108.1 783.4h10.1v10.1h-10.1zM1105.6 783.6h10.1v10.1h-10.1zM1103.3 783.4h10.1v10.1h-10.1zM1097.8 783.6h10.1v10.1h-10.1zM1091.0 785.1h10.1v10.1h-10.1zM1083.7 792.0h10.1v10.1h-10.1zM1083.8 797.9h10.1v10.1h-10.1zM1083.4 802.2h10.1v10.1h-10.1zM1083.4 805.8h10.1v10.1h-10.1zM1082.4 813.7h10.1v10.1h-10.1zM1081.4 815.3h10.1v10.1h-10.1zM1081.5 822.2h10.1v10.1h-10.1zM1081.2 824.4h10.1v10.1h-10.1zM1080.1 830.5h10.1v10.1h-10.1zM1080.9 836.5h10.1v10.1h-10.1zM1079.8 840.5h10.1v10.1h-10.1zM1082.0 839.4h10.1v10.1h-10.1zM1079.1 839.5h10.1v10.1h-10.1zM1071.8 840.2h10.1v10.1h-10.1zM1067.4 839.9h10.1v10.1h-10.1zM1062.7 839.6h10.1v10.1h-10.1zM1059.7 839.7h10.1v10.1h-10.1zM1054.3 839.2h10.1v10.1h-10.1zM1046.0 841.3h10.1v10.1h-10.1zM1042.4 841.9h10.1v10.1h-10.1zM1036.1 842.9h10.1v10.1h-10.1zM1031.2 844.5h10.1v10.1h-10.1zM1032.4 843.9h10.1v10.1h-10.1zM1031.7 840.6h10.1v10.1h-10.1zM1031.2 837.8h10.1v10.1h-10.1zM1029.6 830.3h10.1v10.1h-10.1zM1029.2 826.1h10.1v10.1h-10.1zM1029.0 819.4h10.1v10.1h-10.1zM1028.8 819.6h10.1v10.1h-10.1zM1028.2 811.5h10.1v10.1h-10.1zM1028.5 805.7h10.1v10.1h-10.1zM1029.4 799.4h10.1v10.1h-10.1zM1029.0 792.7h10.1v10.1h-10.1zM1028.4 792.4h10.1v10.1h-10.1zM1028.5 785.2h10.1v10.1h-10.1zM1029.1 779.9h10.1v10.1h-10.1zM1029.2 770.7h10.1v10.1h-10.1z" fill="none" stroke="#2ca02c" stroke-width="2.6" stroke-linejoin="miter"/><path d="M1167.7 743.8h10.1v10.1h-10.1zM1170.2 745.5h10.1v10.1h-10.1zM1173.5 745.6h10.1v10.1h-10.1zM1175.8 752.6h10.1v10.1h-10.1zM1177.8 756.3h10.1v10.1h-10.1zM1177.1 762.1h10.1v10.1h-10.1zM1177.8 766.2h10.1v10.1h-10.1zM1177.1 768.4h10.1v10.1h-10.1zM1178.3 775.8h10.1v10.1h-10.1zM1178.4 779.8h10.1v10.1h-10.1zM1177.3 787.7h10.1v10.1h-10.1zM1178.7 789.6h10.1v10.1h-10.1zM1177.7 795.6h10.1v10.1h-10.1zM1179.1 800.3h10.1v10.1h-10.1zM1178.0 807.8h10.1v10.1h-10.1zM1179.1 813.8h10.1v10.1h-10.1zM1177.4 816.4h10.1v10.1h-10.1zM1177.8 822.6h10.1v10.1h-10.1zM1176.9 827.8h10.1v10.1h-10.1zM1176.9 833.9h10.1v10.1h-10.1zM1175.9 840.5h10.1v10.1h-10.1zM1176.1 848.1h10.1v10.1h-10.1zM1177.1 845.7h10.1v10.1h-10.1zM1172.1 857.0h10.1v10.1h-10.1zM1171.1 860.9h10.1v10.1h-10.1zM1169.8 865.0h10.1v10.1h-10.1zM1168.8 869.9h10.1v10.1h-10.1zM1168.9 877.5h10.1v10.1h-10.1zM1167.5 884.7h10.1v10.1h-10.1zM1167.9 889.7h10.1v10.1h-10.1zM1168.8 893.8h10.1v10.1h-10.1zM1168.1 900.2h10.1v10.1h-10.1zM1169.6 906.5h10.1v10.1h-10.1zM1168.0 904.5h10.1v10.1h-10.1zM1168.0 904.6h10.1v10.1h-10.1zM1167.4 901.1h10.1v10.1h-10.1zM1163.8 892.4h10.1v10.1h-10.1zM1160.1 885.5h10.1v10.1h-10.1zM1158.8 884.2h10.1v10.1h-10.1zM1156.1 879.0h10.1v10.1h-10.1zM1155.8 872.9h10.1v10.1h-10.1zM1155.5 867.1h10.1v10.1h-10.1zM1154.7 864.1h10.1v10.1h-10.1zM1154.9 858.8h10.1v10.1h-10.1zM1154.4 854.1h10.1v10.1h-10.1zM1154.9 849.4h10.1v10.1h-10.1zM1153.2 842.7h10.1v10.1h-10.1zM1152.6 833.5h10.1v10.1h-10.1zM1151.8 828.1h10.1v10.1h-10.1zM1151.2 824.8h10.1v10.1h-10.1zM1152.0 818.5h10.1v10.1h-10.1zM1151.6 811.2h10.1v10.1h-10.1zM1151.8 810.0h10.1v10.1h-10.1zM1150.3 801.6h10.1v10.1h-10.1zM1151.4 799.4h10.1v10.1h-10.1zM1151.3 792.1h10.1v10.1h-10.1zM1150.7 789.2h10.1v10.1h-10.1zM1152.1 783.8h10.1v10.1h-10.1zM1151.2 779.8h10.1v10.1h-10.1zM1151.2 771.4h10.1v10.1h-10.1zM1152.0 768.5h10.1v10.1h-10.1zM1151.7 759.8h10.1v10.1h-10.1zM1152.2 755.8h10.1v10.1h-10.1zM1152.4 756.0h10.1v10.1h-10.1zM1157.2 751.1h10.1v10.1h-10.1zM1163.7 745.2h10.1v10.1h-10.1zM1167.5 742.6h10.1v10.1h-10.1z" fill="none" stroke="#2ca02c" stroke-width="2.6" stroke-linejoin="miter"/><path d="M1193.0 731.1h10.1v10.1h-10.1zM1194.3 725.4h10.1v10.1h-10.1zM1196.1 717.4h10.1v10.1h-10.1zM1195.1 719.3h10.1v10.1h-10.1zM1200.7 720.0h10.1v10.1h-10.1zM1206.9 719.6h10.1v10.1h-10.1zM1208.7 720.3h10.1v10.1h-10.1zM1213.3 720.1h10.1v10.1h-10.1zM1212.3 715.8h10.1v10.1h-10.1zM1212.9 725.8h10.1v10.1h-10.1zM1213.8 728.6h10.1v10.1h-10.1zM1214.0 735.5h10.1v10.1h-10.1zM1213.4 740.1h10.1v10.1h-10.1zM1213.5 748.8h10.1v10.1h-10.1zM1214.4 748.2h10.1v10.1h-10.1zM1213.5 757.3h10.1v10.1h-10.1zM1213.9 760.6h10.1v10.1h-10.1zM1213.7 765.9h10.1v10.1h-10.1zM1214.9 771.2h10.1v10.1h-10.1zM1215.3 777.1h10.1v10.1h-10.1zM1215.8 784.5h10.1v10.1h-10.1zM1215.5 789.4h10.1v10.1h-10.1zM1215.1 792.6h10.1v10.1h-10.1zM1216.0 796.0h10.1v10.1h-10.1zM1216.1 799.3h10.1v10.1h-10.1zM1216.6 802.6h10.1v10.1h-10.1zM1212.1 810.5h10.1v10.1h-10.1zM1211.5 812.9h10.1v10.1h-10.1zM1208.3 818.4h10.1v10.1h-10.1zM1206.6 826.4h10.1v10.1h-10.1zM1204.0 827.8h10.1v10.1h-10.1zM1203.1 833.9h10.1v10.1h-10.1zM1202.1 836.6h10.1v10.1h-10.1zM1199.4 843.0h10.1v10.1h-10.1zM1196.5 850.0h10.1v10.1h-10.1zM1196.2 859.9h10.1v10.1h-10.1zM1195.9 861.6h10.1v10.1h-10.1zM1190.8 864.0h10.1v10.1h-10.1zM1195.7 866.2h10.1v10.1h-10.1zM1195.2 859.1h10.1v10.1h-10.1zM1193.3 854.7h10.1v10.1h-10.1zM1192.8 851.6h10.1v10.1h-10.1zM1192.1 844.7h10.1v10.1h-10.1zM1191.7 842.0h10.1v10.1h-10.1zM1193.1 834.7h10.1v10.1h-10.1zM1192.9 828.6h10.1v10.1h-10.1zM1192.3 824.1h10.1v10.1h-10.1zM1192.1 818.4h10.1v10.1h-10.1zM1192.5 815.0h10.1v10.1h-10.1zM1191.9 811.2h10.1v10.1h-10.1zM1192.6 804.4h10.1v10.1h-10.1zM1193.2 800.5h10.1v10.1h-10.1zM1191.9 793.1h10.1v10.1h-10.1zM1192.3 787.7h10.1v10.1h-10.1zM1192.1 782.0h10.1v10.1h-10.1zM1192.5 778.6h10.1v10.1h-10.1zM1192.8 775.1h10.1v10.1h-10.1zM1193.2 769.1h10.1v10.1h-10.1zM1192.3 764.4h10.1v10.1h-10.1zM1192.4 758.4h10.1v10.1h-10.1zM1192.4 754.0h10.1v10.1h-10.1zM1192.2 747.9h10.1v10.1h-10.1zM1191.8 741.9h10.1v10.1h-10.1zM1191.9 739.8h10.1v10.1h-10.1zM1192.0 729.5h10.1v10.1h-10.1z" fill="none" stroke="#2ca02c" stroke-width="2.6" stroke-linejoin="miter"/><path d="M1322.7 692.0h10.1v10.1h-10.1zM1325.6 687.6h10.1v10.1h-10.1zM1330.0 680.1h10.1v10.1h-10.1zM1326.1 680.5h10.1v10.1h-10.1zM1338.5 682.5h10.1v10.1h-10.1zM1338.5 681.8h10.1v10.1h-10.1zM1339.2 679.3h10.1v10.1h-10.1zM1339.8 687.0h10.1v10.1h-10.1zM1340.0 695.4h10.1v10.1h-10.1zM1340.1 701.5h10.1v10.1h-10.1zM1341.0 705.0h10.1v10.1h-10.1zM1341.3 711.8h10.1v10.1h-10.1zM1341.0 717.2h10.1v10.1h-10.1zM1342.2 722.6h10.1v10.1h-10.1zM1341.2 727.1h10.1v10.1h-10.1zM1342.7 730.9h10.1v10.1h-10.1zM1342.6 734.4h10.1v10.1h-10.1zM1342.6 740.3h10.1v10.1h-10.1zM1341.7 746.2h10.1v10.1h-10.1zM1342.0 753.8h10.1v10.1h-10.1zM1342.4 758.4h10.1v10.1h-10.1zM1341.4 763.7h10.1v10.1h-10.1zM1341.4 770.6h10.1v10.1h-10.1zM1341.7 774.4h10.1v10.1h-10.1zM1340.2 781.4h10.1v10.1h-10.1zM1340.2 785.8h10.1v10.1h-10.1zM1338.8 790.9h10.1v10.1h-10.1zM1338.6 796.1h10.1v10.1h-10.1zM1336.6 802.1h10.1v10.1h-10.1zM1335.6 807.3h10.1v10.1h-10.1zM1334.5 812.7h10.1v10.1h-10.1zM1332.2 822.7h10.1v10.1h-10.1zM1331.7 823.8h10.1v10.1h-10.1zM1328.4 834.2h10.1v10.1h-10.1zM1327.3 838.2h10.1v10.1h-10.1zM1323.4 847.0h10.1v10.1h-10.1zM1322.5 851.0h10.1v10.1h-10.1zM1321.3 860.7h10.1v10.1h-10.1zM1322.0 860.2h10.1v10.1h-10.1zM1317.5 863.7h10.1v10.1h-10.1zM1321.3 866.1h10.1v10.1h-10.1zM1320.5 859.8h10.1v10.1h-10.1zM1319.0 851.8h10.1v10.1h-10.1zM1318.3 848.6h10.1v10.1h-10.1zM1317.4 841.2h10.1v10.1h-10.1zM1315.6 834.5h10.1v10.1h-10.1zM1315.7 830.1h10.1v10.1h-10.1zM1315.2 824.3h10.1v10.1h-10.1zM1315.2 818.3h10.1v10.1h-10.1zM1316.4 814.5h10.1v10.1h-10.1zM1315.1 808.7h10.1v10.1h-10.1zM1316.4 806.1h10.1v10.1h-10.1zM1316.1 798.8h10.1v10.1h-10.1zM1316.0 795.3h10.1v10.1h-10.1zM1315.2 790.4h10.1v10.1h-10.1zM1316.7 784.9h10.1v10.1h-10.1zM1316.6 777.2h10.1v10.1h-10.1zM1316.2 773.4h10.1v10.1h-10.1zM1316.7 770.7h10.1v10.1h-10.1zM1317.1 763.1h10.1v10.1h-10.1zM1317.1 757.1h10.1v10.1h-10.1zM1317.4 750.4h10.1v10.1h-10.1zM1317.6 747.4h10.1v10.1h-10.1zM1317.7 741.2h10.1v10.1h-10.1zM1318.5 733.9h10.1v10.1h-10.1zM1318.5 731.7h10.1v10.1h-10.1zM1318.8 726.3h10.1v10.1h-10.1zM1319.0 717.7h10.1v10.1h-10.1zM1320.1 710.8h10.1v10.1h-10.1zM1319.9 705.2h10.1v10.1h-10.1zM1321.6 703.1h10.1v10.1h-10.1zM1321.9 698.7h10.1v10.1h-10.1z" fill="none" stroke="#2ca02c" stroke-width="2.6" stroke-linejoin="miter"/><path d="M1256.6 802.6h10.1v10.1h-10.1zM1258.7 801.9h10.1v10.1h-10.1zM1259.0 804.3h10.1v10.1h-10.1zM1258.5 809.6h10.1v10.1h-10.1zM1258.5 814.5h10.1v10.1h-10.1zM1259.7 816.3h10.1v10.1h-10.1zM1259.2 821.8h10.1v10.1h-10.1zM1258.3 827.7h10.1v10.1h-10.1zM1258.6 835.7h10.1v10.1h-10.1zM1259.3 839.8h10.1v10.1h-10.1zM1258.7 844.2h10.1v10.1h-10.1zM1259.7 851.1h10.1v10.1h-10.1zM1258.3 854.1h10.1v10.1h-10.1zM1259.2 857.5h10.1v10.1h-10.1zM1259.3 865.5h10.1v10.1h-10.1zM1258.8 869.8h10.1v10.1h-10.1zM1258.3 875.0h10.1v10.1h-10.1zM1259.4 879.3h10.1v10.1h-10.1zM1258.9 883.9h10.1v10.1h-10.1zM1259.3 892.7h10.1v10.1h-10.1zM1259.7 895.8h10.1v10.1h-10.1zM1258.6 899.7h10.1v10.1h-10.1zM1258.6 905.7h10.1v10.1h-10.1zM1258.4 912.8h10.1v10.1h-10.1zM1258.4 916.1h10.1v10.1h-10.1zM1259.5 922.9h10.1v10.1h-10.1zM1259.3 927.6h10.1v10.1h-10.1zM1259.1 927.7h10.1v10.1h-10.1zM1255.3 933.3h10.1v10.1h-10.1zM1259.5 932.8h10.1v10.1h-10.1zM1257.7 930.0h10.1v10.1h-10.1zM1255.7 927.6h10.1v10.1h-10.1zM1255.9 921.8h10.1v10.1h-10.1zM1256.1 916.1h10.1v10.1h-10.1zM1256.0 908.8h10.1v10.1h-10.1zM1255.2 905.0h10.1v10.1h-10.1zM1256.7 901.1h10.1v10.1h-10.1zM1256.2 894.2h10.1v10.1h-10.1zM1255.7 891.4h10.1v10.1h-10.1zM1256.6 886.7h10.1v10.1h-10.1zM1256.3 878.5h10.1v10.1h-10.1zM1255.3 874.7h10.1v10.1h-10.1zM1256.7 872.2h10.1v10.1h-10.1zM1256.3 864.9h10.1v10.1h-10.1zM1255.3 861.1h10.1v10.1h-10.1zM1255.5 855.4h10.1v10.1h-10.1zM1256.6 850.1h10.1v10.1h-10.1zM1256.1 842.2h10.1v10.1h-10.1zM1255.2 837.0h10.1v10.1h-10.1zM1255.2 830.9h10.1v10.1h-10.1zM1255.6 829.4h10.1v10.1h-10.1zM1256.3 824.1h10.1v10.1h-10.1zM1255.5 819.0h10.1v10.1h-10.1zM1255.9 814.0h10.1v10.1h-10.1zM1256.2 806.8h10.1v10.1h-10.1zM1256.3 800.3h10.1v10.1h-10.1z" fill="none" stroke="#2ca02c" stroke-width="2.6" stroke-linejoin="miter"/><path d="M1033.2 736.3h10.1v10.1h-10.1zM1036.5 727.5h10.1v10.1h-10.1zM1035.9 725.1h10.1v10.1h-10.1zM1037.5 723.7h10.1v10.1h-10.1zM1042.2 722.3h10.1v10.1h-10.1zM1043.7 721.4h10.1v10.1h-10.1zM1049.6 725.8h10.1v10.1h-10.1zM1051.9 726.3h10.1v10.1h-10.1zM1058.5 735.3h10.1v10.1h-10.1zM1066.9 734.8h10.1v10.1h-10.1zM1074.5 733.8h10.1v10.1h-10.1zM1076.6 731.0h10.1v10.1h-10.1zM1084.3 729.3h10.1v10.1h-10.1zM1090.4 727.3h10.1v10.1h-10.1zM1096.7 728.1h10.1v10.1h-10.1zM1096.2 728.6h10.1v10.1h-10.1zM1101.8 730.9h10.1v10.1h-10.1zM1103.8 734.7h10.1v10.1h-10.1zM1106.3 740.2h10.1v10.1h-10.1zM1107.1 741.0h10.1v10.1h-10.1zM1108.1 750.8h10.1v10.1h-10.1zM1109.3 746.6h10.1v10.1h-10.1zM1104.7 746.4h10.1v10.1h-10.1zM1100.5 746.1h10.1v10.1h-10.1zM1096.7 746.2h10.1v10.1h-10.1zM1093.0 745.9h10.1v10.1h-10.1zM1087.0 745.5h10.1v10.1h-10.1zM1078.7 745.5h10.1v10.1h-10.1zM1075.8 745.9h10.1v10.1h-10.1zM1070.6 745.6h10.1v10.1h-10.1zM1067.1 745.4h10.1v10.1h-10.1zM1057.6 745.7h10.1v10.1h-10.1zM1057.5 746.6h10.1v10.1h-10.1zM1048.7 746.0h10.1v10.1h-10.1zM1046.5 745.4h10.1v10.1h-10.1zM1038.8 746.5h10.1v10.1h-10.1zM1034.7 745.2h10.1v10.1h-10.1zM1028.4 746.5h10.1v10.1h-10.1zM1032.8 750.8h10.1v10.1h-10.1zM1033.8 743.4h10.1v10.1h-10.1zM1034.0 738.8h10.1v10.1h-10.1z" fill="none" stroke="#2ca02c" stroke-width="2.6" stroke-linejoin="miter"/><path d="M369.2 727.2h10.1v10.1h-10.1zM424.4 726.2h10.1v10.1h-10.1zM475.3 708.5h10.1v10.1h-10.1zM471.4 719.2h10.1v10.1h-10.1zM504.1 712.0h10.1v10.1h-10.1zM525.5 711.7h10.1v10.1h-10.1zM526.6 717.9h10.1v10.1h-10.1zM518.2 728.2h10.1v10.1h-10.1zM521.2 730.4h10.1v10.1h-10.1zM547.5 717.4h10.1v10.1h-10.1zM568.0 701.8h10.1v10.1h-10.1zM562.2 717.0h10.1v10.1h-10.1zM560.9 727.8h10.1v10.1h-10.1zM564.4 728.6h10.1v10.1h-10.1zM571.6 726.9h10.1v10.1h-10.1zM576.1 727.2h10.1v10.1h-10.1zM590.2 717.9h10.1v10.1h-10.1zM600.2 707.2h10.1v10.1h-10.1zM601.1 731.7h10.1v10.1h-10.1zM607.2 709.0h10.1v10.1h-10.1zM599.9 706.6h10.1v10.1h-10.1zM608.2 708.7h10.1v10.1h-10.1zM590.2 718.4h10.1v10.1h-10.1zM577.8 726.7h10.1v10.1h-10.1zM624.1 709.4h10.1v10.1h-10.1zM641.4 713.5h10.1v10.1h-10.1zM659.4 712.8h10.1v10.1h-10.1zM667.7 710.7h10.1v10.1h-10.1zM680.1 705.9h10.1v10.1h-10.1zM691.2 706.6h10.1v10.1h-10.1zM691.2 712.1h10.1v10.1h-10.1zM708.5 710.1h10.1v10.1h-10.1zM725.1 711.4h10.1v10.1h-10.1zM734.1 713.5h10.1v10.1h-10.1zM752.7 713.5h10.1v10.1h-10.1zM766.6 713.5h10.1v10.1h-10.1zM599.9 732.2h10.1v10.1h-10.1zM611.7 734.2h10.1v10.1h-10.1zM626.2 735.6h10.1v10.1h-10.1zM635.9 734.2h10.1v10.1h-10.1zM607.5 723.2h10.1v10.1h-10.1zM627.6 722.5h10.1v10.1h-10.1zM615.0 728.0h10.1v10.1h-10.1zM620.0 717.0h10.1v10.1h-10.1zM645.0 722.0h10.1v10.1h-10.1zM653.0 730.0h10.1v10.1h-10.1zM635.0 725.0h10.1v10.1h-10.1zM595.0 725.0h10.1v10.1h-10.1zM585.0 728.0h10.1v10.1h-10.1zM640.0 737.0h10.1v10.1h-10.1zM650.0 737.0h10.1v10.1h-10.1zM612.0 719.0h10.1v10.1h-10.1zM628.9 763.2h10.1v10.1h-10.1zM630.2 771.6h10.1v10.1h-10.1zM638.6 764.7h10.1v10.1h-10.1zM656.6 765.4h10.1v10.1h-10.1zM677.2 771.6h10.1v10.1h-10.1zM692.6 781.2h10.1v10.1h-10.1zM700.2 792.2h10.1v10.1h-10.1zM626.2 783.4h10.1v10.1h-10.1zM622.7 800.6h10.1v10.1h-10.1zM633.0 767.0h10.1v10.1h-10.1zM647.0 763.0h10.1v10.1h-10.1zM665.0 767.0h10.1v10.1h-10.1zM685.0 775.0h10.1v10.1h-10.1zM696.7 826.9h10.1v10.1h-10.1zM705.0 811.7h10.1v10.1h-10.1zM717.5 829.7h10.1v10.1h-10.1zM735.4 839.4h10.1v10.1h-10.1zM735.4 857.4h10.1v10.1h-10.1zM746.5 857.4h10.1v10.1h-10.1zM752.0 840.8h10.1v10.1h-10.1zM765.9 849.1h10.1v10.1h-10.1zM768.6 857.4h10.1v10.1h-10.1zM729.1 876.1h10.1v10.1h-10.1zM747.4 900.2h10.1v10.1h-10.1zM751.1 839.9h10.1v10.1h-10.1zM769.9 857.4h10.1v10.1h-10.1zM808.8 719.7h10.1v10.1h-10.1zM792.9 726.7h10.1v10.1h-10.1zM777.9 725.0h10.1v10.1h-10.1zM840.5 717.9h10.1v10.1h-10.1zM827.2 812.2h10.1v10.1h-10.1zM810.5 820.1h10.1v10.1h-10.1zM791.1 838.6h10.1v10.1h-10.1zM796.4 848.2h10.1v10.1h-10.1zM794.7 865.9h10.1v10.1h-10.1zM829.9 843.0h10.1v10.1h-10.1zM829.9 900.2h10.1v10.1h-10.1zM844.9 816.6h10.1v10.1h-10.1zM856.2 830.7h10.1v10.1h-10.1zM893.2 850.1h10.1v10.1h-10.1zM917.1 853.6h10.1v10.1h-10.1zM910.1 868.6h10.1v10.1h-10.1zM932.1 900.2h10.1v10.1h-10.1zM933.9 834.2h10.1v10.1h-10.1zM955.0 843.0h10.1v10.1h-10.1zM974.4 844.8h10.1v10.1h-10.1zM979.7 853.6h10.1v10.1h-10.1zM995.6 864.2h10.1v10.1h-10.1zM1009.6 856.2h10.1v10.1h-10.1zM1008.8 895.9h10.1v10.1h-10.1zM772.6 857.1h10.1v10.1h-10.1zM783.0 722.0h10.1v10.1h-10.1zM800.0 723.0h10.1v10.1h-10.1zM825.0 722.0h10.1v10.1h-10.1zM886.2 706.5h10.1v10.1h-10.1zM918.7 853.6h10.1v10.1h-10.1zM915.0 869.9h10.1v10.1h-10.1zM1028.7 852.4h10.1v10.1h-10.1zM1039.9 849.9h10.1v10.1h-10.1zM1049.9 848.6h10.1v10.1h-10.1zM1064.9 844.9h10.1v10.1h-10.1zM1077.4 844.9h10.1v10.1h-10.1zM1078.5 859.9h10.1v10.1h-10.1zM1096.0 844.9h10.1v10.1h-10.1zM1074.4 887.4h10.1v10.1h-10.1zM1094.9 794.9h10.1v10.1h-10.1zM1094.9 804.9h10.1v10.1h-10.1zM1108.5 792.4h10.1v10.1h-10.1zM1108.5 803.7h10.1v10.1h-10.1zM1109.9 816.2h10.1v10.1h-10.1zM1110.4 833.6h10.1v10.1h-10.1zM1110.4 858.6h10.1v10.1h-10.1zM1110.4 894.9h10.1v10.1h-10.1zM1110.4 949.8h10.1v10.1h-10.1zM1151.4 855.4h10.1v10.1h-10.1zM1154.2 866.8h10.1v10.1h-10.1zM1154.2 878.2h10.1v10.1h-10.1zM1168.5 880.1h10.1v10.1h-10.1zM1166.5 893.4h10.1v10.1h-10.1zM1168.5 904.8h10.1v10.1h-10.1zM1179.9 851.6h10.1v10.1h-10.1zM1194.8 908.6h10.1v10.1h-10.1zM1194.8 913.6h10.1v10.1h-10.1zM1216.0 841.1h10.1v10.1h-10.1zM1216.0 816.2h10.1v10.1h-10.1zM1194.8 873.6h10.1v10.1h-10.1zM1257.2 949.8h10.1v10.1h-10.1zM1196.5 689.2h10.1v10.1h-10.1zM1206.5 693.7h10.1v10.1h-10.1zM1192.7 705.2h10.1v10.1h-10.1zM1211.0 706.7h10.1v10.1h-10.1zM1195.0 715.9h10.1v10.1h-10.1zM1211.8 715.9h10.1v10.1h-10.1zM1201.0 711.0h10.1v10.1h-10.1zM1327.2 661.9h10.1v10.1h-10.1zM1338.0 663.2h10.1v10.1h-10.1zM1325.9 668.6h10.1v10.1h-10.1zM1343.2 801.2h10.1v10.1h-10.1zM1339.2 832.7h10.1v10.1h-10.1zM1323.2 871.7h10.1v10.1h-10.1zM1315.5 910.7h10.1v10.1h-10.1z" fill="none" stroke="#2ca02c" stroke-width="2.6" stroke-linejoin="miter"/><path d="M630.9 737.8h10.1v10.1h-10.1zM742.9 717.6h10.1v10.1h-10.1zM755.7 723.7h10.1v10.1h-10.1zM611.5 727.4h10.1v10.1h-10.1zM774.1 721.9h10.1v10.1h-10.1zM645.5 723.3h10.1v10.1h-10.1zM612.1 716.5h10.1v10.1h-10.1zM648.4 716.8h10.1v10.1h-10.1zM645.9 724.6h10.1v10.1h-10.1zM721.3 715.3h10.1v10.1h-10.1zM628.5 720.3h10.1v10.1h-10.1zM773.6 723.3h10.1v10.1h-10.1zM613.1 717.2h10.1v10.1h-10.1zM748.9 723.0h10.1v10.1h-10.1zM637.7 727.6h10.1v10.1h-10.1zM673.6 723.9h10.1v10.1h-10.1zM699.7 722.3h10.1v10.1h-10.1zM694.1 710.0h10.1v10.1h-10.1zM614.7 732.9h10.1v10.1h-10.1zM677.0 714.7h10.1v10.1h-10.1zM760.1 716.8h10.1v10.1h-10.1zM654.9 727.6h10.1v10.1h-10.1z" fill="none" stroke="#2ca02c" stroke-width="2.6" stroke-linejoin="miter"/><path d="M606.8 732.2h10.1v10.1h-10.1zM613.4 733.9h10.1v10.1h-10.1zM607.9 723.5h10.1v10.1h-10.1zM644.7 730.1h10.1v10.1h-10.1zM636.8 730.3h10.1v10.1h-10.1zM626.7 741.3h10.1v10.1h-10.1zM621.1 737.7h10.1v10.1h-10.1zM632.9 733.5h10.1v10.1h-10.1z" fill="none" stroke="#2ca02c" stroke-width="2.6" stroke-linejoin="miter"/><path d="M703.3 796.1h10.1v10.1h-10.1zM693.5 784.7h10.1v10.1h-10.1zM674.6 777.7h10.1v10.1h-10.1zM660.3 766.2h10.1v10.1h-10.1zM661.4 759.4h10.1v10.1h-10.1zM663.1 762.1h10.1v10.1h-10.1zM668.1 775.2h10.1v10.1h-10.1zM644.3 746.2h10.1v10.1h-10.1zM651.6 752.3h10.1v10.1h-10.1zM698.2 788.0h10.1v10.1h-10.1z" fill="none" stroke="#2ca02c" stroke-width="2.6" stroke-linejoin="miter"/></g><g font-family="Liberation Sans, sans-serif" fill="#000"><text transform="translate(165.39,1007.80) scale(0.950,1.000)" font-size="61.90">1</text><text transform="translate(202.05,1008.02) scale(0.994,1.008)" font-size="61.90">0</text><text transform="translate(239.50,988.71) scale(1.216,1.098)" font-size="43.33">−</text><text transform="translate(273.54,985.85) scale(0.939,1.005)" font-size="43.33">5</text><text transform="translate(165.39,919.10) scale(0.950,1.000)" font-size="61.90">1</text><text transform="translate(202.05,919.32) scale(0.994,1.008)" font-size="61.90">0</text><text transform="translate(239.50,900.01) scale(1.216,1.098)" font-size="43.33">−</text><text transform="translate(273.02,897.00) scale(0.995,1.000)" font-size="43.33">4</text><text transform="translate(165.39,830.40) scale(0.950,1.000)" font-size="61.90">1</text><text transform="translate(202.05,830.62) scale(0.994,1.008)" font-size="61.90">0</text><text transform="translate(239.50,811.31) scale(1.216,1.098)" font-size="43.33">−</text><text transform="translate(273.56,808.45) scale(0.955,1.008)" font-size="43.33">3</text><text transform="translate(165.39,741.70) scale(0.950,1.000)" font-size="61.90">1</text><text transform="translate(202.05,741.92) scale(0.994,1.008)" font-size="61.90">0</text><text transform="translate(239.50,722.61) scale(1.216,1.098)" font-size="43.33">−</text><text transform="translate(272.92,719.60) scale(0.959,1.003)" font-size="43.33">2</text><text transform="translate(165.39,653.00) scale(0.950,1.000)" font-size="61.90">1</text><text transform="translate(202.05,653.22) scale(0.994,1.008)" font-size="61.90">0</text><text transform="translate(239.50,633.91) scale(1.216,1.098)" font-size="43.33">−</text><text transform="translate(273.37,630.90) scale(0.950,1.000)" font-size="43.33">1</text><text transform="translate(199.64,564.30) scale(0.950,1.000)" font-size="61.90">1</text><text transform="translate(236.31,564.52) scale(0.994,1.008)" font-size="61.90">0</text><text transform="translate(273.03,542.35) scale(0.994,1.008)" font-size="43.33">0</text><text transform="translate(199.64,475.60) scale(0.950,1.000)" font-size="61.90">1</text><text transform="translate(236.31,475.82) scale(0.994,1.008)" font-size="61.90">0</text><text transform="translate(273.37,453.50) scale(0.950,1.000)" font-size="43.33">1</text><text transform="translate(199.64,386.90) scale(0.950,1.000)" font-size="61.90">1</text><text transform="translate(236.31,387.12) scale(0.994,1.008)" font-size="61.90">0</text><text transform="translate(272.92,364.80) scale(0.959,1.003)" font-size="43.33">2</text><text transform="translate(199.64,298.20) scale(0.950,1.000)" font-size="61.90">1</text><text transform="translate(236.31,298.42) scale(0.994,1.008)" font-size="61.90">0</text><text transform="translate(273.56,276.25) scale(0.955,1.008)" font-size="43.33">3</text><text transform="translate(199.64,209.50) scale(0.950,1.000)" font-size="61.90">1</text><text transform="translate(236.31,209.72) scale(0.994,1.008)" font-size="61.90">0</text><text transform="translate(273.02,187.40) scale(0.995,1.000)" font-size="43.33">4</text><text transform="translate(199.64,120.80) scale(0.950,1.000)" font-size="61.90">1</text><text transform="translate(236.31,121.02) scale(0.994,1.008)" font-size="61.90">0</text><text transform="translate(273.54,98.85) scale(0.939,1.005)" font-size="43.33">5</text><text transform="translate(731.74,1090.90) scale(0.950,1.000)" font-size="61.90">1</text><text transform="translate(768.40,1091.12) scale(0.994,1.008)" font-size="61.90">0</text><text transform="translate(805.02,1067.90) scale(0.959,1.003)" font-size="43.33">2</text><text transform="translate(1233.74,1090.90) scale(0.950,1.000)" font-size="61.90">1</text><text transform="translate(1270.40,1091.12) scale(0.994,1.008)" font-size="61.90">0</text><text transform="translate(1307.65,1068.05) scale(0.955,1.008)" font-size="43.33">3</text><text transform="translate(603.49,1190.40) scale(0.809,1.000)" font-size="61.90">F</text><text transform="translate(635.79,1190.40) scale(1.209,0.982)" font-size="61.90">r</text><text transform="translate(660.01,1190.63) scale(1.019,0.989)" font-size="61.90">e</text><text transform="translate(695.96,1190.06) scale(1.024,0.972)" font-size="61.90">q</text><text transform="translate(733.34,1190.62) scale(1.017,1.007)" font-size="61.90">u</text><text transform="translate(770.03,1190.63) scale(1.019,0.989)" font-size="61.90">e</text><text transform="translate(806.54,1190.40) scale(1.017,0.982)" font-size="61.90">n</text><text transform="translate(843.16,1190.63) scale(0.947,0.989)" font-size="61.90">c</text><text transform="translate(876.12,1190.11) scale(1.013,0.968)" font-size="61.90">y</text><text transform="translate(929.62,1186.54) scale(0.797,0.902)" font-size="61.90">(</text><text transform="translate(951.18,1190.63) scale(0.947,0.989)" font-size="61.90">c</text><text transform="translate(983.44,1190.40) scale(1.075,0.982)" font-size="61.90">m</text><text transform="translate(1041.17,1171.71) scale(1.216,1.098)" font-size="43.33">−</text><text transform="translate(1075.05,1168.70) scale(0.950,1.000)" font-size="43.33">1</text><text transform="translate(1104.09,1186.54) scale(0.797,0.902)" font-size="61.90">)</text></g><g font-family="Liberation Sans, sans-serif" fill="#000" transform="translate(112.0,1265) rotate(-90)"><text transform="translate(405.44,0.22) scale(0.841,1.008)" font-size="61.90">S</text><text transform="translate(441.75,0.23) scale(0.947,0.989)" font-size="61.90">c</text><text transform="translate(474.41,0.23) scale(0.848,0.989)" font-size="61.90">a</text><text transform="translate(509.30,-0.49) scale(1.261,1.012)" font-size="61.90">t</text><text transform="translate(532.20,-0.49) scale(1.261,1.012)" font-size="61.90">t</text><text transform="translate(555.26,0.23) scale(1.019,0.989)" font-size="61.90">e</text><text transform="translate(590.98,0.00) scale(1.209,0.982)" font-size="61.90">r</text><text transform="translate(616.16,0.00) scale(0.964,0.989)" font-size="61.90">i</text><text transform="translate(632.00,0.00) scale(1.017,0.982)" font-size="61.90">n</text><text transform="translate(668.45,-0.36) scale(1.025,0.974)" font-size="61.90">g</text><text transform="translate(724.67,0.00) scale(0.902,1.000)" font-size="61.90">R</text><text transform="translate(765.38,0.23) scale(0.848,0.989)" font-size="61.90">a</text><text transform="translate(800.28,-0.49) scale(1.261,1.012)" font-size="61.90">t</text><text transform="translate(823.33,0.23) scale(1.019,0.989)" font-size="61.90">e</text><text transform="translate(879.24,-3.86) scale(0.797,0.902)" font-size="61.90">(</text><text transform="translate(901.27,-0.34) scale(1.026,0.972)" font-size="61.90">p</text><text transform="translate(938.74,0.23) scale(0.904,0.991)" font-size="61.90">s</text><text transform="translate(969.30,-18.69) scale(1.216,1.098)" font-size="43.33">−</text><text transform="translate(1003.17,-21.70) scale(0.950,1.000)" font-size="43.33">1</text><text transform="translate(1032.21,-3.86) scale(0.797,0.902)" font-size="61.90">)</text></g><path d="M325.90 985.90H345.90M1375.00 985.90H1395.00M325.90 897.20H345.90M1375.00 897.20H1395.00M325.90 808.50H345.90M1375.00 808.50H1395.00M325.90 719.80H345.90M1375.00 719.80H1395.00M325.90 631.10H345.90M1375.00 631.10H1395.00M325.90 542.40H345.90M1375.00 542.40H1395.00M325.90 453.70H345.90M1375.00 453.70H1395.00M325.90 365.00H345.90M1375.00 365.00H1395.00M325.90 276.30H345.90M1375.00 276.30H1395.00M325.90 187.60H345.90M1375.00 187.60H1395.00M325.90 98.90H345.90M1375.00 98.90H1395.00M778.00 1016.00V996.00M778.00 58.90V78.90M1280.00 1016.00V996.00M1280.00 58.90V78.90M427.12 1016.00V1004.00M427.12 58.90V70.90M515.51 1016.00V1004.00M515.51 58.90V70.90M578.23 1016.00V1004.00M578.23 58.90V70.90M626.88 1016.00V1004.00M626.88 58.90V70.90M666.63 1016.00V1004.00M666.63 58.90V70.90M700.24 1016.00V1004.00M700.24 58.90V70.90M729.35 1016.00V1004.00M729.35 58.90V70.90M755.03 1016.00V1004.00M755.03 58.90V70.90M929.12 1016.00V1004.00M929.12 58.90V70.90M1017.51 1016.00V1004.00M1017.51 58.90V70.90M1080.23 1016.00V1004.00M1080.23 58.90V70.90M1128.88 1016.00V1004.00M1128.88 58.90V70.90M1168.63 1016.00V1004.00M1168.63 58.90V70.90M1202.24 1016.00V1004.00M1202.24 58.90V70.90M1231.35 1016.00V1004.00M1231.35 58.90V70.90M1257.03 1016.00V1004.00M1257.03 58.90V70.90" stroke="#000" stroke-width="4.1" fill="none"/><rect x="325.9" y="58.9" width="1069.1" height="957.1" fill="none" stroke="#000" stroke-width="4.1" stroke-linejoin="miter"/><g font-family="Liberation Sans, sans-serif" fill="#000"><rect x="351" y="84.1" width="386.9" height="213.6" fill="#fff" stroke="#898989" stroke-width="2.1"/><circle cx="396.5" cy="125.5" r="5.2" fill="none" stroke="#1f77b4" stroke-width="2.6"/><path d="M396.5 183.9 L401.4 193.7 L391.6 193.7 Z" fill="none" stroke="#ff7f0e" stroke-width="2.6" stroke-linejoin="miter"/><rect x="391.45" y="246.55" width="10.1" height="10.1" fill="none" stroke="#2ca02c" stroke-width="2.6"/><text transform="translate(442.38,143.99) scale(0.955,1.008)" font-size="52.89">3</text><text transform="translate(473.28,143.51) scale(1.026,0.972)" font-size="52.89">p</text><text transform="translate(504.70,143.80) scale(1.024,0.989)" font-size="52.89">h</text><text transform="translate(537.22,140.50) scale(0.797,0.902)" font-size="52.89">(</text><text transform="translate(556.89,143.99) scale(0.955,1.008)" font-size="52.89">3</text><text transform="translate(588.00,143.99) scale(0.994,1.008)" font-size="52.89">0</text><text transform="translate(619.75,143.99) scale(0.994,1.008)" font-size="52.89">0</text><text transform="translate(651.03,143.80) scale(0.951,1.000)" font-size="52.89">K</text><text transform="translate(686.73,140.50) scale(0.797,0.902)" font-size="52.89">)</text><text transform="translate(441.69,206.10) scale(0.964,0.989)" font-size="52.89">i</text><text transform="translate(455.63,206.29) scale(0.904,0.991)" font-size="52.89">s</text><text transform="translate(480.78,206.30) scale(1.003,0.989)" font-size="52.89">o</text><text transform="translate(511.12,205.68) scale(1.261,1.012)" font-size="52.89">t</text><text transform="translate(530.88,206.30) scale(1.003,0.989)" font-size="52.89">o</text><text transform="translate(561.92,205.81) scale(1.026,0.972)" font-size="52.89">p</text><text transform="translate(593.02,206.30) scale(1.019,0.989)" font-size="52.89">e</text><text transform="translate(442.19,269.20) scale(0.971,1.000)" font-size="52.89">L</text><text transform="translate(471.45,267.96) scale(1.216,0.826)" font-size="52.89">=</text><text transform="translate(512.77,269.20) scale(0.950,1.000)" font-size="52.89">1</text><text transform="translate(544.10,269.39) scale(0.994,1.008)" font-size="52.89">0</text><text transform="translate(575.84,269.39) scale(0.994,1.008)" font-size="52.89">0</text><text transform="translate(607.59,269.39) scale(0.994,1.008)" font-size="52.89">0</text><text transform="translate(639.06,269.20) scale(1.017,0.982)" font-size="52.89">n</text><text transform="translate(670.49,269.20) scale(1.075,0.982)" font-size="52.89">m</text></g></svg></body></html>
